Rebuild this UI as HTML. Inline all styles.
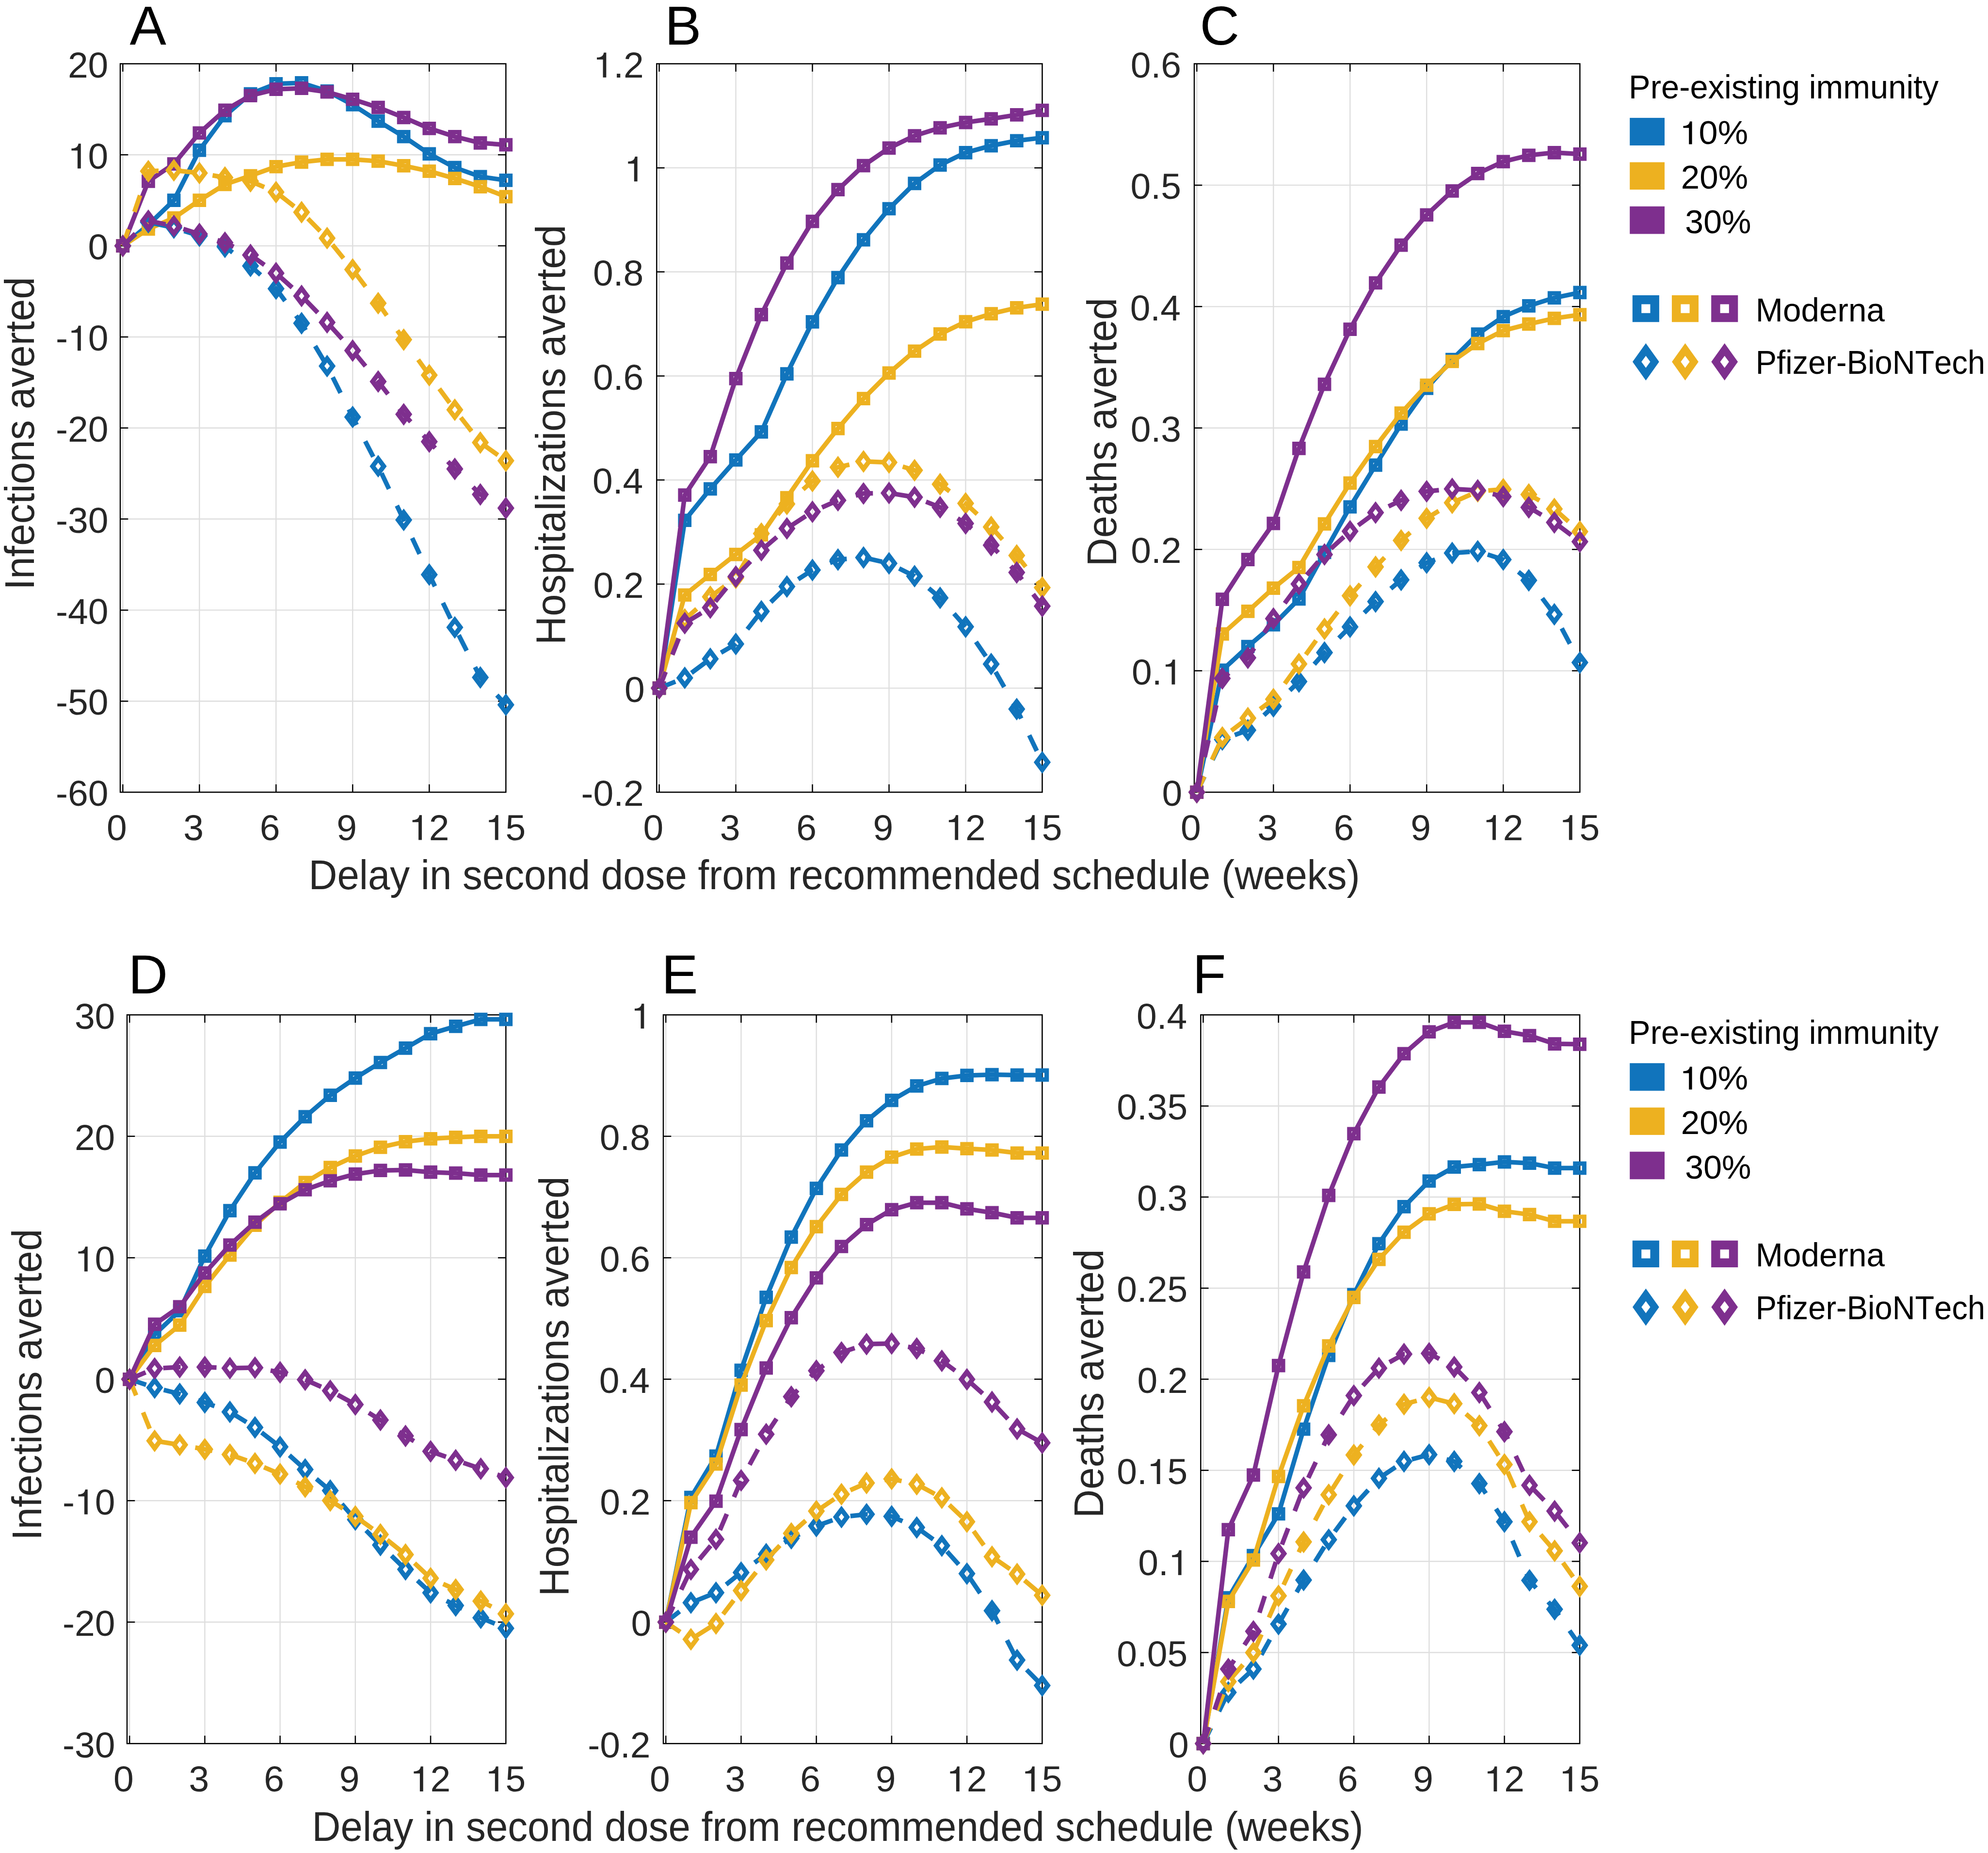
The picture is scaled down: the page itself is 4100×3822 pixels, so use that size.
<!DOCTYPE html>
<html><head><meta charset="utf-8"><title>Figure</title><style>html,body{margin:0;padding:0;background:#fff;}svg{display:block;}text{font-family:"Liberation Sans",sans-serif;font-kerning:none;}</style></head><body>
<svg width="4100" height="3822" viewBox="0 0 4100 3822" font-family="Liberation Sans, sans-serif" style="font-kerning:none">
<rect width="4100" height="3822" fill="#fff"/>
<path d="M253.27 131.5V1634M411.27 131.5V1634M569.28 131.5V1634M727.29 131.5V1634M885.29 131.5V1634M1043.3 131.5V1634M248 131.5H1043.3M248 319.31H1043.3M248 507.12H1043.3M248 694.94H1043.3M248 882.75H1043.3M248 1070.56H1043.3M248 1258.38H1043.3M248 1446.19H1043.3M248 1634H1043.3" stroke="#DEDEDE" stroke-width="2.4" fill="none"/>
<path d="M248 131.5H1043.3V1634H248ZM253.27 1634V1619M253.27 131.5V146.5M411.27 1634V1619M411.27 131.5V146.5M569.28 1634V1619M569.28 131.5V146.5M727.29 1634V1619M727.29 131.5V146.5M885.29 1634V1619M885.29 131.5V146.5M1043.3 1634V1619M1043.3 131.5V146.5M248 131.5H263M1043.3 131.5H1028.3M248 319.31H263M1043.3 319.31H1028.3M248 507.12H263M1043.3 507.12H1028.3M248 694.94H263M1043.3 694.94H1028.3M248 882.75H263M1043.3 882.75H1028.3M248 1070.56H263M1043.3 1070.56H1028.3M248 1258.38H263M1043.3 1258.38H1028.3M248 1446.19H263M1043.3 1446.19H1028.3M248 1634H263M1043.3 1634H1028.3" stroke="#000" stroke-width="2.5" fill="none" stroke-linecap="square"/>
<path d="M253.27 507.12L305.94 463.93L358.6 413.22L411.27 309.92L463.94 238.55L516.61 193.48L569.28 172.82L621.95 170.94L674.62 187.84L727.29 216.02L779.96 249.82L832.62 281.75L885.29 317.43L937.96 345.61L990.63 364.39L1043.3 371.9" stroke="#1174BC" stroke-width="9.5" fill="none" stroke-linejoin="round"/>
<path d="M239.42 493.27H267.12V520.98H239.42ZM248.57 502.43H257.97V511.82H248.57ZM292.09 450.08H319.79V477.78H292.09ZM301.24 459.23H310.64V468.63H301.24ZM344.75 399.37H372.45V427.07H344.75ZM353.9 408.52H363.3V417.92H353.9ZM397.42 296.07H425.12V323.77H397.42ZM406.57 305.22H415.97V314.62H406.57ZM450.09 224.7H477.79V252.4H450.09ZM459.24 233.85H468.64V243.25H459.24ZM502.76 179.63H530.46V207.33H502.76ZM511.91 188.78H521.31V198.18H511.91ZM555.43 158.97H583.13V186.67H555.43ZM564.58 168.12H573.98V177.52H564.58ZM608.1 157.09H635.8V184.79H608.1ZM617.25 166.24H626.65V175.64H617.25ZM660.77 173.99H688.47V201.69H660.77ZM669.92 183.14H679.32V192.54H669.92ZM713.44 202.17H741.14V229.87H713.44ZM722.59 211.32H731.99V220.72H722.59ZM766.11 235.97H793.81V263.67H766.11ZM775.26 245.12H784.66V254.52H775.26ZM818.77 267.9H846.47V295.6H818.77ZM827.92 277.05H837.32V286.45H827.92ZM871.44 303.58H899.14V331.28H871.44ZM880.59 312.73H889.99V322.13H880.59ZM924.11 331.76H951.81V359.46H924.11ZM933.26 340.91H942.66V350.31H933.26ZM976.78 350.54H1004.48V378.24H976.78ZM985.93 359.69H995.33V369.09H985.93ZM1029.45 358.05H1057.15V385.75H1029.45ZM1038.6 367.2H1048V376.6H1038.6Z" fill="#1174BC" fill-rule="evenodd"/>
<path d="M253.27 507.12L305.94 472.38L358.6 449.65L411.27 413.22L463.94 380.35L516.61 362.51L569.28 343.73L621.95 334.34L674.62 328.7L727.29 328.7L779.96 332.46L832.62 341.85L885.29 353.12L937.96 368.14L990.63 385.05L1043.3 405.71" stroke="#EDB120" stroke-width="9.5" fill="none" stroke-linejoin="round"/>
<path d="M239.42 493.27H267.12V520.98H239.42ZM248.57 502.43H257.97V511.82H248.57ZM292.09 458.53H319.79V486.23H292.09ZM301.24 467.68H310.64V477.08H301.24ZM344.75 435.8H372.45V463.5H344.75ZM353.9 444.95H363.3V454.35H353.9ZM397.42 399.37H425.12V427.07H397.42ZM406.57 408.52H415.97V417.92H406.57ZM450.09 366.5H477.79V394.2H450.09ZM459.24 375.65H468.64V385.05H459.24ZM502.76 348.66H530.46V376.36H502.76ZM511.91 357.81H521.31V367.21H511.91ZM555.43 329.88H583.13V357.58H555.43ZM564.58 339.03H573.98V348.43H564.58ZM608.1 320.49H635.8V348.19H608.1ZM617.25 329.64H626.65V339.04H617.25ZM660.77 314.85H688.47V342.55H660.77ZM669.92 324H679.32V333.4H669.92ZM713.44 314.85H741.14V342.55H713.44ZM722.59 324H731.99V333.4H722.59ZM766.11 318.61H793.81V346.31H766.11ZM775.26 327.76H784.66V337.16H775.26ZM818.77 328H846.47V355.7H818.77ZM827.92 337.15H837.32V346.55H827.92ZM871.44 339.27H899.14V366.97H871.44ZM880.59 348.42H889.99V357.82H880.59ZM924.11 354.29H951.81V381.99H924.11ZM933.26 363.44H942.66V372.84H933.26ZM976.78 371.2H1004.48V398.9H976.78ZM985.93 380.35H995.33V389.75H985.93ZM1029.45 391.86H1057.15V419.56H1029.45ZM1038.6 401.01H1048V410.41H1038.6Z" fill="#EDB120" fill-rule="evenodd"/>
<path d="M253.27 507.12L305.94 373.78L358.6 338.09L411.27 274.24L463.94 227.28L516.61 197.23L569.28 184.09L621.95 182.21L674.62 189.72L727.29 204.75L779.96 221.65L832.62 242.31L885.29 264.85L937.96 281.75L990.63 294.9L1043.3 298.65" stroke="#7E2F8E" stroke-width="9.5" fill="none" stroke-linejoin="round"/>
<path d="M239.42 493.27H267.12V520.98H239.42ZM248.57 502.43H257.97V511.82H248.57ZM292.09 359.93H319.79V387.63H292.09ZM301.24 369.08H310.64V378.48H301.24ZM344.75 324.24H372.45V351.94H344.75ZM353.9 333.39H363.3V342.79H353.9ZM397.42 260.39H425.12V288.09H397.42ZM406.57 269.54H415.97V278.94H406.57ZM450.09 213.43H477.79V241.13H450.09ZM459.24 222.58H468.64V231.98H459.24ZM502.76 183.38H530.46V211.08H502.76ZM511.91 192.53H521.31V201.93H511.91ZM555.43 170.24H583.13V197.94H555.43ZM564.58 179.39H573.98V188.79H564.58ZM608.1 168.36H635.8V196.06H608.1ZM617.25 177.51H626.65V186.91H617.25ZM660.77 175.87H688.47V203.57H660.77ZM669.92 185.02H679.32V194.42H669.92ZM713.44 190.9H741.14V218.6H713.44ZM722.59 200.05H731.99V209.45H722.59ZM766.11 207.8H793.81V235.5H766.11ZM775.26 216.95H784.66V226.35H775.26ZM818.77 228.46H846.47V256.16H818.77ZM827.92 237.61H837.32V247.01H827.92ZM871.44 251H899.14V278.7H871.44ZM880.59 260.15H889.99V269.55H880.59ZM924.11 267.9H951.81V295.6H924.11ZM933.26 277.05H942.66V286.45H933.26ZM976.78 281.05H1004.48V308.75H976.78ZM985.93 290.2H995.33V299.6H985.93ZM1029.45 284.8H1057.15V312.5H1029.45ZM1038.6 293.95H1048V303.35H1038.6Z" fill="#7E2F8E" fill-rule="evenodd"/>
<path d="M253.27 507.12L305.94 458.29L358.6 469.56L411.27 486.47L463.94 509L516.61 548.44L569.28 595.4L621.95 666.77L674.62 755.04L727.29 860.21L779.96 961.63L832.62 1072.44L885.29 1185.13L937.96 1294.06L990.63 1397.36L1043.3 1453.7" stroke="#1174BC" stroke-width="9.5" fill="none" stroke-linejoin="round" stroke-dasharray="36 38"/>
<path d="M253.27 483.73L270.87 507.12L253.27 530.52L235.67 507.12ZM253.27 499.82L258.87 507.12L253.27 514.42L247.67 507.12ZM305.94 434.89L323.54 458.29L305.94 481.69L288.34 458.29ZM305.94 450.99L311.54 458.29L305.94 465.59L300.34 458.29ZM358.6 446.16L376.2 469.56L358.6 492.96L341 469.56ZM358.6 462.26L364.2 469.56L358.6 476.86L353 469.56ZM411.27 463.07L428.87 486.47L411.27 509.87L393.67 486.47ZM411.27 479.17L416.87 486.47L411.27 493.77L405.67 486.47ZM463.94 485.6L481.54 509L463.94 532.4L446.34 509ZM463.94 501.7L469.54 509L463.94 516.3L458.34 509ZM516.61 525.04L534.21 548.44L516.61 571.84L499.01 548.44ZM516.61 541.14L522.21 548.44L516.61 555.74L511.01 548.44ZM569.28 572L586.88 595.4L569.28 618.8L551.68 595.4ZM569.28 588.1L574.88 595.4L569.28 602.7L563.68 595.4ZM621.95 643.37L639.55 666.77L621.95 690.17L604.35 666.77ZM621.95 659.47L627.55 666.77L621.95 674.07L616.35 666.77ZM674.62 731.64L692.22 755.04L674.62 778.44L657.02 755.04ZM674.62 747.74L680.22 755.04L674.62 762.34L669.02 755.04ZM727.29 836.81L744.89 860.21L727.29 883.61L709.69 860.21ZM727.29 852.91L732.89 860.21L727.29 867.51L721.69 860.21ZM779.96 938.23L797.56 961.63L779.96 985.03L762.36 961.63ZM779.96 954.33L785.56 961.63L779.96 968.93L774.36 961.63ZM832.62 1049.04L850.22 1072.44L832.62 1095.84L815.02 1072.44ZM832.62 1065.14L838.22 1072.44L832.62 1079.74L827.02 1072.44ZM885.29 1161.73L902.89 1185.13L885.29 1208.53L867.69 1185.13ZM885.29 1177.83L890.89 1185.13L885.29 1192.43L879.69 1185.13ZM937.96 1270.66L955.56 1294.06L937.96 1317.46L920.36 1294.06ZM937.96 1286.76L943.56 1294.06L937.96 1301.36L932.36 1294.06ZM990.63 1373.96L1008.23 1397.36L990.63 1420.76L973.03 1397.36ZM990.63 1390.06L996.23 1397.36L990.63 1404.66L985.03 1397.36ZM1043.3 1430.3L1060.9 1453.7L1043.3 1477.1L1025.7 1453.7ZM1043.3 1446.4L1048.9 1453.7L1043.3 1461L1037.7 1453.7Z" fill="#1174BC" fill-rule="evenodd"/>
<path d="M253.27 507.12L305.94 353.12L358.6 351.24L411.27 356.88L463.94 366.27L516.61 373.78L569.28 396.32L621.95 437.63L674.62 491.16L727.29 555.96L779.96 625.45L832.62 700.57L885.29 773.82L937.96 845.19L990.63 912.8L1043.3 950.36" stroke="#EDB120" stroke-width="9.5" fill="none" stroke-linejoin="round" stroke-dasharray="36 38"/>
<path d="M253.27 483.73L270.87 507.12L253.27 530.52L235.67 507.12ZM253.27 499.82L258.87 507.12L253.27 514.42L247.67 507.12ZM305.94 329.72L323.54 353.12L305.94 376.52L288.34 353.12ZM305.94 345.82L311.54 353.12L305.94 360.42L300.34 353.12ZM358.6 327.84L376.2 351.24L358.6 374.64L341 351.24ZM358.6 343.94L364.2 351.24L358.6 358.54L353 351.24ZM411.27 333.48L428.87 356.88L411.27 380.27L393.67 356.88ZM411.27 349.57L416.87 356.88L411.27 364.18L405.67 356.88ZM463.94 342.87L481.54 366.27L463.94 389.67L446.34 366.27ZM463.94 358.97L469.54 366.27L463.94 373.57L458.34 366.27ZM516.61 350.38L534.21 373.78L516.61 397.18L499.01 373.78ZM516.61 366.48L522.21 373.78L516.61 381.08L511.01 373.78ZM569.28 372.92L586.88 396.32L569.28 419.72L551.68 396.32ZM569.28 389.02L574.88 396.32L569.28 403.62L563.68 396.32ZM621.95 414.23L639.55 437.63L621.95 461.03L604.35 437.63ZM621.95 430.33L627.55 437.63L621.95 444.93L616.35 437.63ZM674.62 467.76L692.22 491.16L674.62 514.56L657.02 491.16ZM674.62 483.86L680.22 491.16L674.62 498.46L669.02 491.16ZM727.29 532.56L744.89 555.96L727.29 579.36L709.69 555.96ZM727.29 548.66L732.89 555.96L727.29 563.26L721.69 555.96ZM779.96 602.05L797.56 625.45L779.96 648.85L762.36 625.45ZM779.96 618.15L785.56 625.45L779.96 632.75L774.36 625.45ZM832.62 677.17L850.22 700.57L832.62 723.97L815.02 700.57ZM832.62 693.27L838.22 700.57L832.62 707.87L827.02 700.57ZM885.29 750.42L902.89 773.82L885.29 797.22L867.69 773.82ZM885.29 766.52L890.89 773.82L885.29 781.12L879.69 773.82ZM937.96 821.79L955.56 845.19L937.96 868.59L920.36 845.19ZM937.96 837.89L943.56 845.19L937.96 852.49L932.36 845.19ZM990.63 889.4L1008.23 912.8L990.63 936.2L973.03 912.8ZM990.63 905.5L996.23 912.8L990.63 920.1L985.03 912.8ZM1043.3 926.96L1060.9 950.36L1043.3 973.76L1025.7 950.36ZM1043.3 943.06L1048.9 950.36L1043.3 957.66L1037.7 950.36Z" fill="#EDB120" fill-rule="evenodd"/>
<path d="M253.27 507.12L305.94 455.48L358.6 466.18L411.27 482.71L463.94 500.55L516.61 525.91L569.28 563.47L621.95 610.42L674.62 664.89L727.29 723.11L779.96 786.97L832.62 854.58L885.29 910.92L937.96 967.27L990.63 1019.85L1043.3 1048.03" stroke="#7E2F8E" stroke-width="9.5" fill="none" stroke-linejoin="round" stroke-dasharray="36 38"/>
<path d="M253.27 483.73L270.87 507.12L253.27 530.52L235.67 507.12ZM253.27 499.82L258.87 507.12L253.27 514.42L247.67 507.12ZM305.94 432.08L323.54 455.48L305.94 478.88L288.34 455.48ZM305.94 448.18L311.54 455.48L305.94 462.78L300.34 455.48ZM358.6 442.78L376.2 466.18L358.6 489.58L341 466.18ZM358.6 458.88L364.2 466.18L358.6 473.48L353 466.18ZM411.27 459.31L428.87 482.71L411.27 506.11L393.67 482.71ZM411.27 475.41L416.87 482.71L411.27 490.01L405.67 482.71ZM463.94 477.15L481.54 500.55L463.94 523.95L446.34 500.55ZM463.94 493.25L469.54 500.55L463.94 507.85L458.34 500.55ZM516.61 502.51L534.21 525.91L516.61 549.31L499.01 525.91ZM516.61 518.61L522.21 525.91L516.61 533.21L511.01 525.91ZM569.28 540.07L586.88 563.47L569.28 586.87L551.68 563.47ZM569.28 556.17L574.88 563.47L569.28 570.77L563.68 563.47ZM621.95 587.02L639.55 610.42L621.95 633.82L604.35 610.42ZM621.95 603.12L627.55 610.42L621.95 617.72L616.35 610.42ZM674.62 641.49L692.22 664.89L674.62 688.29L657.02 664.89ZM674.62 657.59L680.22 664.89L674.62 672.19L669.02 664.89ZM727.29 699.71L744.89 723.11L727.29 746.51L709.69 723.11ZM727.29 715.81L732.89 723.11L727.29 730.41L721.69 723.11ZM779.96 763.57L797.56 786.97L779.96 810.37L762.36 786.97ZM779.96 779.67L785.56 786.97L779.96 794.27L774.36 786.97ZM832.62 831.18L850.22 854.58L832.62 877.98L815.02 854.58ZM832.62 847.28L838.22 854.58L832.62 861.88L827.02 854.58ZM885.29 887.52L902.89 910.92L885.29 934.32L867.69 910.92ZM885.29 903.62L890.89 910.92L885.29 918.22L879.69 910.92ZM937.96 943.87L955.56 967.27L937.96 990.67L920.36 967.27ZM937.96 959.97L943.56 967.27L937.96 974.57L932.36 967.27ZM990.63 996.45L1008.23 1019.85L990.63 1043.25L973.03 1019.85ZM990.63 1012.55L996.23 1019.85L990.63 1027.15L985.03 1019.85ZM1043.3 1024.62L1060.9 1048.03L1043.3 1071.43L1025.7 1048.03ZM1043.3 1040.73L1048.9 1048.03L1043.3 1055.33L1037.7 1048.03Z" fill="#7E2F8E" fill-rule="evenodd"/>
<g transform="translate(139.91,159.7)" fill="#262626"><text x="0" y="0" font-size="75">20</text></g>
<g transform="translate(139.91,347.51)" fill="#262626"><text x="0" y="0" font-size="75"> 0</text><path d="M0.3578 0L0.2668 0L0.2668 -0.492L0.1001 -0.492L0.1001 -0.549C0.19 -0.552 0.27 -0.57 0.2917 -0.684L0.3578 -0.684Z" transform="translate(0,0) scale(75)"/></g>
<g transform="translate(181.62,535.33)" fill="#262626"><text x="0" y="0" font-size="75">0</text></g>
<g transform="translate(114.94,723.14)" fill="#262626"><text x="0" y="0" font-size="75">- 0</text><path d="M0.3578 0L0.2668 0L0.2668 -0.492L0.1001 -0.492L0.1001 -0.549C0.19 -0.552 0.27 -0.57 0.2917 -0.684L0.3578 -0.684Z" transform="translate(24.98,0) scale(75)"/></g>
<g transform="translate(114.94,910.95)" fill="#262626"><text x="0" y="0" font-size="75">-20</text></g>
<g transform="translate(114.94,1098.76)" fill="#262626"><text x="0" y="0" font-size="75">-30</text></g>
<g transform="translate(114.94,1286.58)" fill="#262626"><text x="0" y="0" font-size="75">-40</text></g>
<g transform="translate(114.94,1474.39)" fill="#262626"><text x="0" y="0" font-size="75">-50</text></g>
<g transform="translate(114.94,1662.2)" fill="#262626"><text x="0" y="0" font-size="75">-60</text></g>
<g transform="translate(220.12,1732.6)" fill="#262626"><text x="0" y="0" font-size="75">0</text></g>
<g transform="translate(378.35,1732.6)" fill="#262626"><text x="0" y="0" font-size="75">3</text></g>
<g transform="translate(535.87,1732.6)" fill="#262626"><text x="0" y="0" font-size="75">6</text></g>
<g transform="translate(694.14,1732.6)" fill="#262626"><text x="0" y="0" font-size="75">9</text></g>
<g transform="translate(843.11,1732.6)" fill="#262626"><text x="0" y="0" font-size="75"> 2</text><path d="M0.3578 0L0.2668 0L0.2668 -0.492L0.1001 -0.492L0.1001 -0.549C0.19 -0.552 0.27 -0.57 0.2917 -0.684L0.3578 -0.684Z" transform="translate(0,0) scale(75)"/></g>
<g transform="translate(1000.82,1732.6)" fill="#262626"><text x="0" y="0" font-size="75"> 5</text><path d="M0.3578 0L0.2668 0L0.2668 -0.492L0.1001 -0.492L0.1001 -0.549C0.19 -0.552 0.27 -0.57 0.2917 -0.684L0.3578 -0.684Z" transform="translate(0,0) scale(75)"/></g>
<path d="M1359.57 131.5V1634M1517.55 131.5V1634M1675.54 131.5V1634M1833.53 131.5V1634M1991.51 131.5V1634M2149.5 131.5V1634M1354.3 131.5H2149.5M1354.3 346.14H2149.5M1354.3 560.79H2149.5M1354.3 775.43H2149.5M1354.3 990.07H2149.5M1354.3 1204.71H2149.5M1354.3 1419.36H2149.5M1354.3 1634H2149.5" stroke="#DEDEDE" stroke-width="2.4" fill="none"/>
<path d="M1354.3 131.5H2149.5V1634H1354.3ZM1359.57 1634V1619M1359.57 131.5V146.5M1517.55 1634V1619M1517.55 131.5V146.5M1675.54 1634V1619M1675.54 131.5V146.5M1833.53 1634V1619M1833.53 131.5V146.5M1991.51 1634V1619M1991.51 131.5V146.5M2149.5 1634V1619M2149.5 131.5V146.5M1354.3 131.5H1369.3M2149.5 131.5H2134.5M1354.3 346.14H1369.3M2149.5 346.14H2134.5M1354.3 560.79H1369.3M2149.5 560.79H2134.5M1354.3 775.43H1369.3M2149.5 775.43H2134.5M1354.3 990.07H1369.3M2149.5 990.07H2134.5M1354.3 1204.71H1369.3M2149.5 1204.71H2134.5M1354.3 1419.36H1369.3M2149.5 1419.36H2134.5M1354.3 1634H1369.3M2149.5 1634H2134.5" stroke="#000" stroke-width="2.5" fill="none" stroke-linecap="square"/>
<path d="M1359.57 1419.36L1412.23 1073.25L1464.89 1008.32L1517.55 948.75L1570.22 890.8L1622.88 771.14L1675.54 663.81L1728.2 572.59L1780.86 494.57L1833.53 430.5L1886.19 378.45L1938.85 340.35L1991.51 314.81L2044.18 300.53L2096.84 290.23L2149.5 284.11" stroke="#1174BC" stroke-width="9.5" fill="none" stroke-linejoin="round"/>
<path d="M1345.72 1405.51H1373.42V1433.21H1345.72ZM1354.87 1414.66H1364.27V1424.06H1354.87ZM1398.38 1059.4H1426.08V1087.1H1398.38ZM1407.53 1068.55H1416.93V1077.95H1407.53ZM1451.04 994.47H1478.74V1022.17H1451.04ZM1460.19 1003.62H1469.59V1013.02H1460.19ZM1503.7 934.9H1531.4V962.6H1503.7ZM1512.85 944.05H1522.25V953.45H1512.85ZM1556.37 876.95H1584.07V904.65H1556.37ZM1565.52 886.1H1574.92V895.5H1565.52ZM1609.03 757.29H1636.73V784.99H1609.03ZM1618.18 766.44H1627.58V775.84H1618.18ZM1661.69 649.96H1689.39V677.66H1661.69ZM1670.84 659.11H1680.24V668.51H1670.84ZM1714.35 558.74H1742.05V586.44H1714.35ZM1723.5 567.89H1732.9V577.29H1723.5ZM1767.01 480.72H1794.71V508.42H1767.01ZM1776.16 489.87H1785.56V499.27H1776.16ZM1819.68 416.65H1847.38V444.35H1819.68ZM1828.83 425.8H1838.23V435.2H1828.83ZM1872.34 364.6H1900.04V392.3H1872.34ZM1881.49 373.75H1890.89V383.15H1881.49ZM1925 326.5H1952.7V354.2H1925ZM1934.15 335.65H1943.55V345.05H1934.15ZM1977.66 300.96H2005.36V328.66H1977.66ZM1986.81 310.11H1996.21V319.51H1986.81ZM2030.33 286.68H2058.03V314.38H2030.33ZM2039.48 295.83H2048.88V305.23H2039.48ZM2082.99 276.38H2110.69V304.08H2082.99ZM2092.14 285.53H2101.54V294.93H2092.14ZM2135.65 270.26H2163.35V297.96H2135.65ZM2144.8 279.41H2154.2V288.81H2144.8Z" fill="#1174BC" fill-rule="evenodd"/>
<path d="M1359.57 1419.36L1412.23 1227.25L1464.89 1184.86L1517.55 1143.54L1570.22 1103.19L1622.88 1026.56L1675.54 950.36L1728.2 883.82L1780.86 822.22L1833.53 769.31L1886.19 724.24L1938.85 688.93L1991.51 663.6L2044.18 647.18L2096.84 634.84L2149.5 627.43" stroke="#EDB120" stroke-width="9.5" fill="none" stroke-linejoin="round"/>
<path d="M1345.72 1405.51H1373.42V1433.21H1345.72ZM1354.87 1414.66H1364.27V1424.06H1354.87ZM1398.38 1213.4H1426.08V1241.1H1398.38ZM1407.53 1222.55H1416.93V1231.95H1407.53ZM1451.04 1171.01H1478.74V1198.71H1451.04ZM1460.19 1180.16H1469.59V1189.56H1460.19ZM1503.7 1129.69H1531.4V1157.39H1503.7ZM1512.85 1138.84H1522.25V1148.24H1512.85ZM1556.37 1089.34H1584.07V1117.04H1556.37ZM1565.52 1098.49H1574.92V1107.89H1565.52ZM1609.03 1012.71H1636.73V1040.41H1609.03ZM1618.18 1021.86H1627.58V1031.26H1618.18ZM1661.69 936.51H1689.39V964.21H1661.69ZM1670.84 945.66H1680.24V955.06H1670.84ZM1714.35 869.97H1742.05V897.67H1714.35ZM1723.5 879.12H1732.9V888.52H1723.5ZM1767.01 808.37H1794.71V836.07H1767.01ZM1776.16 817.52H1785.56V826.92H1776.16ZM1819.68 755.46H1847.38V783.16H1819.68ZM1828.83 764.61H1838.23V774.01H1828.83ZM1872.34 710.39H1900.04V738.09H1872.34ZM1881.49 719.54H1890.89V728.94H1881.49ZM1925 675.08H1952.7V702.78H1925ZM1934.15 684.23H1943.55V693.63H1934.15ZM1977.66 649.75H2005.36V677.45H1977.66ZM1986.81 658.9H1996.21V668.3H1986.81ZM2030.33 633.33H2058.03V661.03H2030.33ZM2039.48 642.48H2048.88V651.88H2039.48ZM2082.99 620.99H2110.69V648.69H2082.99ZM2092.14 630.14H2101.54V639.54H2092.14ZM2135.65 613.58H2163.35V641.28H2135.65ZM2144.8 622.73H2154.2V632.13H2144.8Z" fill="#EDB120" fill-rule="evenodd"/>
<path d="M1359.57 1419.36L1412.23 1021.19L1464.89 941.78L1517.55 780.79L1570.22 648.79L1622.88 542.54L1675.54 456.68L1728.2 391.22L1780.86 341.53L1833.53 305.36L1886.19 280.03L1938.85 263.61L1991.51 252.56L2044.18 245.15L2096.84 236.89L2149.5 227.55" stroke="#7E2F8E" stroke-width="9.5" fill="none" stroke-linejoin="round"/>
<path d="M1345.72 1405.51H1373.42V1433.21H1345.72ZM1354.87 1414.66H1364.27V1424.06H1354.87ZM1398.38 1007.34H1426.08V1035.04H1398.38ZM1407.53 1016.49H1416.93V1025.89H1407.53ZM1451.04 927.93H1478.74V955.63H1451.04ZM1460.19 937.08H1469.59V946.48H1460.19ZM1503.7 766.94H1531.4V794.64H1503.7ZM1512.85 776.09H1522.25V785.49H1512.85ZM1556.37 634.94H1584.07V662.64H1556.37ZM1565.52 644.09H1574.92V653.49H1565.52ZM1609.03 528.69H1636.73V556.39H1609.03ZM1618.18 537.84H1627.58V547.24H1618.18ZM1661.69 442.83H1689.39V470.53H1661.69ZM1670.84 451.98H1680.24V461.38H1670.84ZM1714.35 377.37H1742.05V405.07H1714.35ZM1723.5 386.52H1732.9V395.92H1723.5ZM1767.01 327.68H1794.71V355.38H1767.01ZM1776.16 336.83H1785.56V346.23H1776.16ZM1819.68 291.51H1847.38V319.21H1819.68ZM1828.83 300.66H1838.23V310.06H1828.83ZM1872.34 266.18H1900.04V293.88H1872.34ZM1881.49 275.33H1890.89V284.73H1881.49ZM1925 249.76H1952.7V277.46H1925ZM1934.15 258.91H1943.55V268.31H1934.15ZM1977.66 238.71H2005.36V266.41H1977.66ZM1986.81 247.86H1996.21V257.26H1986.81ZM2030.33 231.3H2058.03V259H2030.33ZM2039.48 240.45H2048.88V249.85H2039.48ZM2082.99 223.04H2110.69V250.74H2082.99ZM2092.14 232.19H2101.54V241.59H2092.14ZM2135.65 213.7H2163.35V241.4H2135.65ZM2144.8 222.85H2154.2V232.25H2144.8Z" fill="#7E2F8E" fill-rule="evenodd"/>
<path d="M1359.57 1419.36L1412.23 1398.21L1464.89 1358.94L1517.55 1328.24L1570.22 1260.95L1622.88 1209.76L1675.54 1175.74L1728.2 1154.27L1780.86 1149.98L1833.53 1162L1886.19 1188.4L1938.85 1233.15L1991.51 1292.83L2044.18 1369.67L2096.84 1462.61L2149.5 1572.29" stroke="#1174BC" stroke-width="9.5" fill="none" stroke-linejoin="round" stroke-dasharray="36 38"/>
<path d="M1359.57 1395.96L1377.17 1419.36L1359.57 1442.76L1341.97 1419.36ZM1359.57 1412.06L1365.17 1419.36L1359.57 1426.66L1353.97 1419.36ZM1412.23 1374.81L1429.83 1398.21L1412.23 1421.61L1394.63 1398.21ZM1412.23 1390.91L1417.83 1398.21L1412.23 1405.51L1406.63 1398.21ZM1464.89 1335.54L1482.49 1358.94L1464.89 1382.34L1447.29 1358.94ZM1464.89 1351.64L1470.49 1358.94L1464.89 1366.24L1459.29 1358.94ZM1517.55 1304.84L1535.15 1328.24L1517.55 1351.64L1499.95 1328.24ZM1517.55 1320.94L1523.15 1328.24L1517.55 1335.54L1511.95 1328.24ZM1570.22 1237.55L1587.82 1260.95L1570.22 1284.35L1552.62 1260.95ZM1570.22 1253.65L1575.82 1260.95L1570.22 1268.25L1564.62 1260.95ZM1622.88 1186.36L1640.48 1209.76L1622.88 1233.16L1605.28 1209.76ZM1622.88 1202.46L1628.48 1209.76L1622.88 1217.06L1617.28 1209.76ZM1675.54 1152.34L1693.14 1175.74L1675.54 1199.14L1657.94 1175.74ZM1675.54 1168.44L1681.14 1175.74L1675.54 1183.04L1669.94 1175.74ZM1728.2 1130.87L1745.8 1154.27L1728.2 1177.67L1710.6 1154.27ZM1728.2 1146.97L1733.8 1154.27L1728.2 1161.57L1722.6 1154.27ZM1780.86 1126.58L1798.46 1149.98L1780.86 1173.38L1763.26 1149.98ZM1780.86 1142.68L1786.46 1149.98L1780.86 1157.28L1775.26 1149.98ZM1833.53 1138.6L1851.13 1162L1833.53 1185.4L1815.93 1162ZM1833.53 1154.7L1839.13 1162L1833.53 1169.3L1827.93 1162ZM1886.19 1165L1903.79 1188.4L1886.19 1211.8L1868.59 1188.4ZM1886.19 1181.1L1891.79 1188.4L1886.19 1195.7L1880.59 1188.4ZM1938.85 1209.75L1956.45 1233.15L1938.85 1256.55L1921.25 1233.15ZM1938.85 1225.85L1944.45 1233.15L1938.85 1240.45L1933.25 1233.15ZM1991.51 1269.43L2009.11 1292.83L1991.51 1316.23L1973.91 1292.83ZM1991.51 1285.53L1997.11 1292.83L1991.51 1300.13L1985.91 1292.83ZM2044.18 1346.27L2061.78 1369.67L2044.18 1393.07L2026.58 1369.67ZM2044.18 1362.37L2049.78 1369.67L2044.18 1376.97L2038.58 1369.67ZM2096.84 1439.21L2114.44 1462.61L2096.84 1486.01L2079.24 1462.61ZM2096.84 1455.31L2102.44 1462.61L2096.84 1469.91L2091.24 1462.61ZM2149.5 1548.89L2167.1 1572.29L2149.5 1595.69L2131.9 1572.29ZM2149.5 1564.99L2155.1 1572.29L2149.5 1579.59L2143.9 1572.29Z" fill="#1174BC" fill-rule="evenodd"/>
<path d="M1359.57 1419.36L1412.23 1277.69L1464.89 1231.01L1517.55 1191.84L1570.22 1100.61L1622.88 1039.44L1675.54 992.22L1728.2 963.67L1780.86 951.76L1833.53 953.8L1886.19 970L1938.85 998.66L1991.51 1038.37L2044.18 1086.98L2096.84 1145.69L2149.5 1211.9" stroke="#EDB120" stroke-width="9.5" fill="none" stroke-linejoin="round" stroke-dasharray="36 38"/>
<path d="M1359.57 1395.96L1377.17 1419.36L1359.57 1442.76L1341.97 1419.36ZM1359.57 1412.06L1365.17 1419.36L1359.57 1426.66L1353.97 1419.36ZM1412.23 1254.29L1429.83 1277.69L1412.23 1301.09L1394.63 1277.69ZM1412.23 1270.39L1417.83 1277.69L1412.23 1284.99L1406.63 1277.69ZM1464.89 1207.61L1482.49 1231.01L1464.89 1254.41L1447.29 1231.01ZM1464.89 1223.71L1470.49 1231.01L1464.89 1238.31L1459.29 1231.01ZM1517.55 1168.44L1535.15 1191.84L1517.55 1215.24L1499.95 1191.84ZM1517.55 1184.54L1523.15 1191.84L1517.55 1199.14L1511.95 1191.84ZM1570.22 1077.21L1587.82 1100.61L1570.22 1124.01L1552.62 1100.61ZM1570.22 1093.31L1575.82 1100.61L1570.22 1107.91L1564.62 1100.61ZM1622.88 1016.04L1640.48 1039.44L1622.88 1062.84L1605.28 1039.44ZM1622.88 1032.14L1628.48 1039.44L1622.88 1046.74L1617.28 1039.44ZM1675.54 968.82L1693.14 992.22L1675.54 1015.62L1657.94 992.22ZM1675.54 984.92L1681.14 992.22L1675.54 999.52L1669.94 992.22ZM1728.2 940.27L1745.8 963.67L1728.2 987.07L1710.6 963.67ZM1728.2 956.37L1733.8 963.67L1728.2 970.97L1722.6 963.67ZM1780.86 928.36L1798.46 951.76L1780.86 975.16L1763.26 951.76ZM1780.86 944.46L1786.46 951.76L1780.86 959.06L1775.26 951.76ZM1833.53 930.4L1851.13 953.8L1833.53 977.2L1815.93 953.8ZM1833.53 946.5L1839.13 953.8L1833.53 961.1L1827.93 953.8ZM1886.19 946.6L1903.79 970L1886.19 993.4L1868.59 970ZM1886.19 962.7L1891.79 970L1886.19 977.3L1880.59 970ZM1938.85 975.26L1956.45 998.66L1938.85 1022.06L1921.25 998.66ZM1938.85 991.36L1944.45 998.66L1938.85 1005.96L1933.25 998.66ZM1991.51 1014.97L2009.11 1038.37L1991.51 1061.77L1973.91 1038.37ZM1991.51 1031.07L1997.11 1038.37L1991.51 1045.67L1985.91 1038.37ZM2044.18 1063.58L2061.78 1086.98L2044.18 1110.38L2026.58 1086.98ZM2044.18 1079.68L2049.78 1086.98L2044.18 1094.28L2038.58 1086.98ZM2096.84 1122.29L2114.44 1145.69L2096.84 1169.09L2079.24 1145.69ZM2096.84 1138.39L2102.44 1145.69L2096.84 1152.99L2091.24 1145.69ZM2149.5 1188.5L2167.1 1211.9L2149.5 1235.3L2131.9 1211.9ZM2149.5 1204.6L2155.1 1211.9L2149.5 1219.2L2143.9 1211.9Z" fill="#EDB120" fill-rule="evenodd"/>
<path d="M1359.57 1419.36L1412.23 1285.42L1464.89 1253.33L1517.55 1189.26L1570.22 1134.96L1622.88 1089.88L1675.54 1055.54L1728.2 1031.93L1780.86 1017.87L1833.53 1016.9L1886.19 1025.49L1938.85 1046.42L1991.51 1079.68L2044.18 1124.44L2096.84 1180.78L2149.5 1250.22" stroke="#7E2F8E" stroke-width="9.5" fill="none" stroke-linejoin="round" stroke-dasharray="36 38"/>
<path d="M1359.57 1395.96L1377.17 1419.36L1359.57 1442.76L1341.97 1419.36ZM1359.57 1412.06L1365.17 1419.36L1359.57 1426.66L1353.97 1419.36ZM1412.23 1262.02L1429.83 1285.42L1412.23 1308.82L1394.63 1285.42ZM1412.23 1278.12L1417.83 1285.42L1412.23 1292.72L1406.63 1285.42ZM1464.89 1229.93L1482.49 1253.33L1464.89 1276.73L1447.29 1253.33ZM1464.89 1246.03L1470.49 1253.33L1464.89 1260.63L1459.29 1253.33ZM1517.55 1165.86L1535.15 1189.26L1517.55 1212.66L1499.95 1189.26ZM1517.55 1181.96L1523.15 1189.26L1517.55 1196.56L1511.95 1189.26ZM1570.22 1111.56L1587.82 1134.96L1570.22 1158.36L1552.62 1134.96ZM1570.22 1127.66L1575.82 1134.96L1570.22 1142.26L1564.62 1134.96ZM1622.88 1066.48L1640.48 1089.88L1622.88 1113.28L1605.28 1089.88ZM1622.88 1082.58L1628.48 1089.88L1622.88 1097.18L1617.28 1089.88ZM1675.54 1032.14L1693.14 1055.54L1675.54 1078.94L1657.94 1055.54ZM1675.54 1048.24L1681.14 1055.54L1675.54 1062.84L1669.94 1055.54ZM1728.2 1008.53L1745.8 1031.93L1728.2 1055.33L1710.6 1031.93ZM1728.2 1024.63L1733.8 1031.93L1728.2 1039.23L1722.6 1031.93ZM1780.86 994.47L1798.46 1017.87L1780.86 1041.27L1763.26 1017.87ZM1780.86 1010.57L1786.46 1017.87L1780.86 1025.17L1775.26 1017.87ZM1833.53 993.5L1851.13 1016.9L1833.53 1040.3L1815.93 1016.9ZM1833.53 1009.6L1839.13 1016.9L1833.53 1024.2L1827.93 1016.9ZM1886.19 1002.09L1903.79 1025.49L1886.19 1048.89L1868.59 1025.49ZM1886.19 1018.19L1891.79 1025.49L1886.19 1032.79L1880.59 1025.49ZM1938.85 1023.02L1956.45 1046.42L1938.85 1069.82L1921.25 1046.42ZM1938.85 1039.12L1944.45 1046.42L1938.85 1053.72L1933.25 1046.42ZM1991.51 1056.28L2009.11 1079.68L1991.51 1103.08L1973.91 1079.68ZM1991.51 1072.38L1997.11 1079.68L1991.51 1086.98L1985.91 1079.68ZM2044.18 1101.04L2061.78 1124.44L2044.18 1147.84L2026.58 1124.44ZM2044.18 1117.14L2049.78 1124.44L2044.18 1131.74L2038.58 1124.44ZM2096.84 1157.38L2114.44 1180.78L2096.84 1204.18L2079.24 1180.78ZM2096.84 1173.48L2102.44 1180.78L2096.84 1188.08L2091.24 1180.78ZM2149.5 1226.82L2167.1 1250.22L2149.5 1273.62L2131.9 1250.22ZM2149.5 1242.92L2155.1 1250.22L2149.5 1257.52L2143.9 1250.22Z" fill="#7E2F8E" fill-rule="evenodd"/>
<g transform="translate(1223.5,159.7)" fill="#262626"><text x="0" y="0" font-size="75"> .2</text><path d="M0.3578 0L0.2668 0L0.2668 -0.492L0.1001 -0.492L0.1001 -0.549C0.19 -0.552 0.27 -0.57 0.2917 -0.684L0.3578 -0.684Z" transform="translate(0,0) scale(75)"/></g>
<g transform="translate(1287.76,374.34)" fill="#262626"><path d="M0.3578 0L0.2668 0L0.2668 -0.492L0.1001 -0.492L0.1001 -0.549C0.19 -0.552 0.27 -0.57 0.2917 -0.684L0.3578 -0.684Z" transform="translate(0,0) scale(75)"/></g>
<g transform="translate(1222.98,588.99)" fill="#262626"><text x="0" y="0" font-size="75">0.8</text></g>
<g transform="translate(1223.05,803.63)" fill="#262626"><text x="0" y="0" font-size="75">0.6</text></g>
<g transform="translate(1221.93,1018.27)" fill="#262626"><text x="0" y="0" font-size="75">0.4</text></g>
<g transform="translate(1223.5,1232.91)" fill="#262626"><text x="0" y="0" font-size="75">0.2</text></g>
<g transform="translate(1287.92,1447.56)" fill="#262626"><text x="0" y="0" font-size="75">0</text></g>
<g transform="translate(1198.53,1662.2)" fill="#262626"><text x="0" y="0" font-size="75">-0.2</text></g>
<g transform="translate(1326.42,1732.6)" fill="#262626"><text x="0" y="0" font-size="75">0</text></g>
<g transform="translate(1484.63,1732.6)" fill="#262626"><text x="0" y="0" font-size="75">3</text></g>
<g transform="translate(1642.13,1732.6)" fill="#262626"><text x="0" y="0" font-size="75">6</text></g>
<g transform="translate(1800.38,1732.6)" fill="#262626"><text x="0" y="0" font-size="75">9</text></g>
<g transform="translate(1949.33,1732.6)" fill="#262626"><text x="0" y="0" font-size="75"> 2</text><path d="M0.3578 0L0.2668 0L0.2668 -0.492L0.1001 -0.492L0.1001 -0.549C0.19 -0.552 0.27 -0.57 0.2917 -0.684L0.3578 -0.684Z" transform="translate(0,0) scale(75)"/></g>
<g transform="translate(2107.02,1732.6)" fill="#262626"><text x="0" y="0" font-size="75"> 5</text><path d="M0.3578 0L0.2668 0L0.2668 -0.492L0.1001 -0.492L0.1001 -0.549C0.19 -0.552 0.27 -0.57 0.2917 -0.684L0.3578 -0.684Z" transform="translate(0,0) scale(75)"/></g>
<path d="M2468.27 131.5V1634M2626.27 131.5V1634M2784.28 131.5V1634M2942.29 131.5V1634M3100.29 131.5V1634M3258.3 131.5V1634M2463 131.5H3258.3M2463 381.92H3258.3M2463 632.33H3258.3M2463 882.75H3258.3M2463 1133.17H3258.3M2463 1383.58H3258.3M2463 1634H3258.3" stroke="#DEDEDE" stroke-width="2.4" fill="none"/>
<path d="M2463 131.5H3258.3V1634H2463ZM2468.27 1634V1619M2468.27 131.5V146.5M2626.27 1634V1619M2626.27 131.5V146.5M2784.28 1634V1619M2784.28 131.5V146.5M2942.29 1634V1619M2942.29 131.5V146.5M3100.29 1634V1619M3100.29 131.5V146.5M3258.3 1634V1619M3258.3 131.5V146.5M2463 131.5H2478M3258.3 131.5H3243.3M2463 381.92H2478M3258.3 381.92H3243.3M2463 632.33H2478M3258.3 632.33H3243.3M2463 882.75H2478M3258.3 882.75H3243.3M2463 1133.17H2478M3258.3 1133.17H3243.3M2463 1383.58H2478M3258.3 1383.58H3243.3M2463 1634H2478M3258.3 1634H3243.3" stroke="#000" stroke-width="2.5" fill="none" stroke-linecap="square"/>
<path d="M2468.27 1634L2520.94 1382.33L2573.6 1333.5L2626.27 1288.68L2678.94 1235.34L2731.61 1139.43L2784.28 1045.52L2836.95 959.38L2889.62 874.74L2942.29 800.86L2994.96 741.51L3047.62 689.18L3100.29 653.12L3152.96 630.83L3205.63 614.3L3258.3 603.28" stroke="#1174BC" stroke-width="9.5" fill="none" stroke-linejoin="round"/>
<path d="M2454.42 1620.15H2482.12V1647.85H2454.42ZM2463.57 1629.3H2472.97V1638.7H2463.57ZM2507.09 1368.48H2534.79V1396.18H2507.09ZM2516.24 1377.63H2525.64V1387.03H2516.24ZM2559.75 1319.65H2587.45V1347.35H2559.75ZM2568.9 1328.8H2578.3V1338.2H2568.9ZM2612.42 1274.83H2640.12V1302.53H2612.42ZM2621.57 1283.98H2630.97V1293.38H2621.57ZM2665.09 1221.49H2692.79V1249.19H2665.09ZM2674.24 1230.64H2683.64V1240.04H2674.24ZM2717.76 1125.58H2745.46V1153.28H2717.76ZM2726.91 1134.73H2736.31V1144.13H2726.91ZM2770.43 1031.67H2798.13V1059.37H2770.43ZM2779.58 1040.82H2788.98V1050.22H2779.58ZM2823.1 945.53H2850.8V973.23H2823.1ZM2832.25 954.68H2841.65V964.08H2832.25ZM2875.77 860.89H2903.47V888.59H2875.77ZM2884.92 870.04H2894.32V879.44H2884.92ZM2928.44 787.01H2956.14V814.71H2928.44ZM2937.59 796.16H2946.99V805.56H2937.59ZM2981.11 727.66H3008.81V755.37H2981.11ZM2990.26 736.81H2999.66V746.22H2990.26ZM3033.77 675.33H3061.47V703.03H3033.77ZM3042.92 684.48H3052.32V693.88H3042.92ZM3086.44 639.27H3114.14V666.97H3086.44ZM3095.59 648.42H3104.99V657.82H3095.59ZM3139.11 616.98H3166.81V644.68H3139.11ZM3148.26 626.13H3157.66V635.53H3148.26ZM3191.78 600.45H3219.48V628.15H3191.78ZM3200.93 609.6H3210.33V619H3200.93ZM3244.45 589.43H3272.15V617.13H3244.45ZM3253.6 598.58H3263V607.98H3253.6Z" fill="#1174BC" fill-rule="evenodd"/>
<path d="M2468.27 1634L2520.94 1307.71L2573.6 1260.88L2626.27 1213.05L2678.94 1170.48L2731.61 1080.58L2784.28 996.44L2836.95 921.06L2889.62 852.2L2942.29 794.6L2994.96 745.52L3047.62 708.71L3100.29 681.92L3152.96 668.39L3205.63 656.62L3258.3 649.11" stroke="#EDB120" stroke-width="9.5" fill="none" stroke-linejoin="round"/>
<path d="M2454.42 1620.15H2482.12V1647.85H2454.42ZM2463.57 1629.3H2472.97V1638.7H2463.57ZM2507.09 1293.86H2534.79V1321.56H2507.09ZM2516.24 1303.01H2525.64V1312.41H2516.24ZM2559.75 1247.03H2587.45V1274.73H2559.75ZM2568.9 1256.18H2578.3V1265.58H2568.9ZM2612.42 1199.2H2640.12V1226.9H2612.42ZM2621.57 1208.35H2630.97V1217.75H2621.57ZM2665.09 1156.63H2692.79V1184.33H2665.09ZM2674.24 1165.78H2683.64V1175.18H2674.24ZM2717.76 1066.73H2745.46V1094.43H2717.76ZM2726.91 1075.88H2736.31V1085.28H2726.91ZM2770.43 982.59H2798.13V1010.29H2770.43ZM2779.58 991.74H2788.98V1001.14H2779.58ZM2823.1 907.21H2850.8V934.91H2823.1ZM2832.25 916.36H2841.65V925.76H2832.25ZM2875.77 838.35H2903.47V866.05H2875.77ZM2884.92 847.5H2894.32V856.9H2884.92ZM2928.44 780.75H2956.14V808.45H2928.44ZM2937.59 789.9H2946.99V799.3H2937.59ZM2981.11 731.67H3008.81V759.37H2981.11ZM2990.26 740.82H2999.66V750.22H2990.26ZM3033.77 694.86H3061.47V722.56H3033.77ZM3042.92 704.01H3052.32V713.41H3042.92ZM3086.44 668.07H3114.14V695.77H3086.44ZM3095.59 677.22H3104.99V686.62H3095.59ZM3139.11 654.54H3166.81V682.24H3139.11ZM3148.26 663.69H3157.66V673.09H3148.26ZM3191.78 642.77H3219.48V670.47H3191.78ZM3200.93 651.92H3210.33V661.32H3200.93ZM3244.45 635.26H3272.15V662.96H3244.45ZM3253.6 644.41H3263V653.81H3253.6Z" fill="#EDB120" fill-rule="evenodd"/>
<path d="M2468.27 1634L2520.94 1236.09L2573.6 1154.2L2626.27 1079.58L2678.94 924.82L2731.61 792.6L2784.28 679.16L2836.95 583.5L2889.62 505.62L2942.29 443.27L2994.96 393.94L3047.62 357.88L3100.29 333.34L3152.96 320.31L3205.63 314.8L3258.3 317.81" stroke="#7E2F8E" stroke-width="9.5" fill="none" stroke-linejoin="round"/>
<path d="M2454.42 1620.15H2482.12V1647.85H2454.42ZM2463.57 1629.3H2472.97V1638.7H2463.57ZM2507.09 1222.24H2534.79V1249.94H2507.09ZM2516.24 1231.39H2525.64V1240.79H2516.24ZM2559.75 1140.35H2587.45V1168.05H2559.75ZM2568.9 1149.5H2578.3V1158.9H2568.9ZM2612.42 1065.73H2640.12V1093.43H2612.42ZM2621.57 1074.88H2630.97V1084.28H2621.57ZM2665.09 910.97H2692.79V938.67H2665.09ZM2674.24 920.12H2683.64V929.52H2674.24ZM2717.76 778.75H2745.46V806.45H2717.76ZM2726.91 787.9H2736.31V797.3H2726.91ZM2770.43 665.31H2798.13V693.01H2770.43ZM2779.58 674.46H2788.98V683.86H2779.58ZM2823.1 569.65H2850.8V597.35H2823.1ZM2832.25 578.8H2841.65V588.2H2832.25ZM2875.77 491.77H2903.47V519.47H2875.77ZM2884.92 500.92H2894.32V510.32H2884.92ZM2928.44 429.42H2956.14V457.12H2928.44ZM2937.59 438.57H2946.99V447.97H2937.59ZM2981.11 380.09H3008.81V407.79H2981.11ZM2990.26 389.24H2999.66V398.64H2990.26ZM3033.77 344.03H3061.47V371.73H3033.77ZM3042.92 353.18H3052.32V362.58H3042.92ZM3086.44 319.49H3114.14V347.19H3086.44ZM3095.59 328.64H3104.99V338.04H3095.59ZM3139.11 306.46H3166.81V334.16H3139.11ZM3148.26 315.61H3157.66V325.01H3148.26ZM3191.78 300.95H3219.48V328.65H3191.78ZM3200.93 310.1H3210.33V319.5H3200.93ZM3244.45 303.96H3272.15V331.66H3244.45ZM3253.6 313.11H3263V322.51H3253.6Z" fill="#7E2F8E" fill-rule="evenodd"/>
<path d="M2468.27 1634L2520.94 1525.32L2573.6 1506.04L2626.27 1456.96L2678.94 1405.87L2731.61 1346.02L2784.28 1292.93L2836.95 1240.85L2889.62 1196.02L2942.29 1160.71L2994.96 1140.68L3047.62 1137.17L3100.29 1154.2L3152.96 1197.02L3205.63 1267.14L3258.3 1366.55" stroke="#1174BC" stroke-width="9.5" fill="none" stroke-linejoin="round" stroke-dasharray="36 38"/>
<path d="M2468.27 1610.6L2485.87 1634L2468.27 1657.4L2450.67 1634ZM2468.27 1626.7L2473.87 1634L2468.27 1641.3L2462.67 1634ZM2520.94 1501.92L2538.54 1525.32L2520.94 1548.72L2503.34 1525.32ZM2520.94 1518.02L2526.54 1525.32L2520.94 1532.62L2515.34 1525.32ZM2573.6 1482.64L2591.2 1506.04L2573.6 1529.44L2556 1506.04ZM2573.6 1498.74L2579.2 1506.04L2573.6 1513.34L2568 1506.04ZM2626.27 1433.56L2643.87 1456.96L2626.27 1480.36L2608.67 1456.96ZM2626.27 1449.66L2631.87 1456.96L2626.27 1464.26L2620.67 1456.96ZM2678.94 1382.47L2696.54 1405.87L2678.94 1429.27L2661.34 1405.87ZM2678.94 1398.57L2684.54 1405.87L2678.94 1413.17L2673.34 1405.87ZM2731.61 1322.62L2749.21 1346.02L2731.61 1369.42L2714.01 1346.02ZM2731.61 1338.72L2737.21 1346.02L2731.61 1353.32L2726.01 1346.02ZM2784.28 1269.53L2801.88 1292.93L2784.28 1316.33L2766.68 1292.93ZM2784.28 1285.63L2789.88 1292.93L2784.28 1300.23L2778.68 1292.93ZM2836.95 1217.45L2854.55 1240.85L2836.95 1264.25L2819.35 1240.85ZM2836.95 1233.55L2842.55 1240.85L2836.95 1248.15L2831.35 1240.85ZM2889.62 1172.62L2907.22 1196.02L2889.62 1219.42L2872.02 1196.02ZM2889.62 1188.72L2895.22 1196.02L2889.62 1203.32L2884.02 1196.02ZM2942.29 1137.31L2959.89 1160.71L2942.29 1184.11L2924.69 1160.71ZM2942.29 1153.41L2947.89 1160.71L2942.29 1168.01L2936.69 1160.71ZM2994.96 1117.28L3012.56 1140.68L2994.96 1164.08L2977.36 1140.68ZM2994.96 1133.38L3000.56 1140.68L2994.96 1147.98L2989.36 1140.68ZM3047.62 1113.77L3065.22 1137.17L3047.62 1160.57L3030.02 1137.17ZM3047.62 1129.87L3053.22 1137.17L3047.62 1144.47L3042.02 1137.17ZM3100.29 1130.8L3117.89 1154.2L3100.29 1177.6L3082.69 1154.2ZM3100.29 1146.9L3105.89 1154.2L3100.29 1161.5L3094.69 1154.2ZM3152.96 1173.62L3170.56 1197.02L3152.96 1220.42L3135.36 1197.02ZM3152.96 1189.72L3158.56 1197.02L3152.96 1204.32L3147.36 1197.02ZM3205.63 1243.74L3223.23 1267.14L3205.63 1290.54L3188.03 1267.14ZM3205.63 1259.84L3211.23 1267.14L3205.63 1274.44L3200.03 1267.14ZM3258.3 1343.15L3275.9 1366.55L3258.3 1389.95L3240.7 1366.55ZM3258.3 1359.25L3263.9 1366.55L3258.3 1373.85L3252.7 1366.55Z" fill="#1174BC" fill-rule="evenodd"/>
<path d="M2468.27 1634L2520.94 1521.06L2573.6 1481.25L2626.27 1442.18L2678.94 1369.56L2731.61 1297.19L2784.28 1228.83L2836.95 1169.23L2889.62 1114.64L2942.29 1069.06L2994.96 1037.01L3047.62 1013.47L3100.29 1009.21L3152.96 1019.98L3205.63 1049.78L3258.3 1096.61" stroke="#EDB120" stroke-width="9.5" fill="none" stroke-linejoin="round" stroke-dasharray="36 38"/>
<path d="M2468.27 1610.6L2485.87 1634L2468.27 1657.4L2450.67 1634ZM2468.27 1626.7L2473.87 1634L2468.27 1641.3L2462.67 1634ZM2520.94 1497.66L2538.54 1521.06L2520.94 1544.46L2503.34 1521.06ZM2520.94 1513.76L2526.54 1521.06L2520.94 1528.36L2515.34 1521.06ZM2573.6 1457.85L2591.2 1481.25L2573.6 1504.65L2556 1481.25ZM2573.6 1473.95L2579.2 1481.25L2573.6 1488.55L2568 1481.25ZM2626.27 1418.78L2643.87 1442.18L2626.27 1465.58L2608.67 1442.18ZM2626.27 1434.88L2631.87 1442.18L2626.27 1449.48L2620.67 1442.18ZM2678.94 1346.16L2696.54 1369.56L2678.94 1392.96L2661.34 1369.56ZM2678.94 1362.26L2684.54 1369.56L2678.94 1376.86L2673.34 1369.56ZM2731.61 1273.79L2749.21 1297.19L2731.61 1320.59L2714.01 1297.19ZM2731.61 1289.89L2737.21 1297.19L2731.61 1304.49L2726.01 1297.19ZM2784.28 1205.43L2801.88 1228.83L2784.28 1252.23L2766.68 1228.83ZM2784.28 1221.53L2789.88 1228.83L2784.28 1236.13L2778.68 1228.83ZM2836.95 1145.83L2854.55 1169.23L2836.95 1192.63L2819.35 1169.23ZM2836.95 1161.93L2842.55 1169.23L2836.95 1176.53L2831.35 1169.23ZM2889.62 1091.24L2907.22 1114.64L2889.62 1138.04L2872.02 1114.64ZM2889.62 1107.34L2895.22 1114.64L2889.62 1121.94L2884.02 1114.64ZM2942.29 1045.66L2959.89 1069.06L2942.29 1092.46L2924.69 1069.06ZM2942.29 1061.76L2947.89 1069.06L2942.29 1076.36L2936.69 1069.06ZM2994.96 1013.61L3012.56 1037.01L2994.96 1060.41L2977.36 1037.01ZM2994.96 1029.71L3000.56 1037.01L2994.96 1044.31L2989.36 1037.01ZM3047.62 990.07L3065.22 1013.47L3047.62 1036.87L3030.02 1013.47ZM3047.62 1006.17L3053.22 1013.47L3047.62 1020.77L3042.02 1013.47ZM3100.29 985.81L3117.89 1009.21L3100.29 1032.61L3082.69 1009.21ZM3100.29 1001.91L3105.89 1009.21L3100.29 1016.51L3094.69 1009.21ZM3152.96 996.58L3170.56 1019.98L3152.96 1043.38L3135.36 1019.98ZM3152.96 1012.68L3158.56 1019.98L3152.96 1027.28L3147.36 1019.98ZM3205.63 1026.38L3223.23 1049.78L3205.63 1073.18L3188.03 1049.78ZM3205.63 1042.48L3211.23 1049.78L3205.63 1057.08L3200.03 1049.78ZM3258.3 1073.21L3275.9 1096.61L3258.3 1120.01L3240.7 1096.61ZM3258.3 1089.31L3263.9 1096.61L3258.3 1103.91L3252.7 1096.61Z" fill="#EDB120" fill-rule="evenodd"/>
<path d="M2468.27 1634L2520.94 1399.36L2573.6 1356.79L2626.27 1275.9L2678.94 1204.54L2731.61 1143.68L2784.28 1095.85L2836.95 1057.29L2889.62 1032L2942.29 1013.47L2994.96 1008.46L3047.62 1011.46L3100.29 1024.24L3152.96 1046.52L3205.63 1077.57L3258.3 1117.14" stroke="#7E2F8E" stroke-width="9.5" fill="none" stroke-linejoin="round" stroke-dasharray="36 38"/>
<path d="M2468.27 1610.6L2485.87 1634L2468.27 1657.4L2450.67 1634ZM2468.27 1626.7L2473.87 1634L2468.27 1641.3L2462.67 1634ZM2520.94 1375.96L2538.54 1399.36L2520.94 1422.76L2503.34 1399.36ZM2520.94 1392.06L2526.54 1399.36L2520.94 1406.66L2515.34 1399.36ZM2573.6 1333.39L2591.2 1356.79L2573.6 1380.19L2556 1356.79ZM2573.6 1349.49L2579.2 1356.79L2573.6 1364.09L2568 1356.79ZM2626.27 1252.5L2643.87 1275.9L2626.27 1299.3L2608.67 1275.9ZM2626.27 1268.6L2631.87 1275.9L2626.27 1283.2L2620.67 1275.9ZM2678.94 1181.14L2696.54 1204.54L2678.94 1227.94L2661.34 1204.54ZM2678.94 1197.24L2684.54 1204.54L2678.94 1211.84L2673.34 1204.54ZM2731.61 1120.28L2749.21 1143.68L2731.61 1167.08L2714.01 1143.68ZM2731.61 1136.38L2737.21 1143.68L2731.61 1150.98L2726.01 1143.68ZM2784.28 1072.45L2801.88 1095.85L2784.28 1119.25L2766.68 1095.85ZM2784.28 1088.55L2789.88 1095.85L2784.28 1103.15L2778.68 1095.85ZM2836.95 1033.89L2854.55 1057.29L2836.95 1080.69L2819.35 1057.29ZM2836.95 1049.99L2842.55 1057.29L2836.95 1064.59L2831.35 1057.29ZM2889.62 1008.6L2907.22 1032L2889.62 1055.4L2872.02 1032ZM2889.62 1024.7L2895.22 1032L2889.62 1039.3L2884.02 1032ZM2942.29 990.07L2959.89 1013.47L2942.29 1036.87L2924.69 1013.47ZM2942.29 1006.17L2947.89 1013.47L2942.29 1020.77L2936.69 1013.47ZM2994.96 985.06L3012.56 1008.46L2994.96 1031.86L2977.36 1008.46ZM2994.96 1001.16L3000.56 1008.46L2994.96 1015.76L2989.36 1008.46ZM3047.62 988.06L3065.22 1011.46L3047.62 1034.86L3030.02 1011.46ZM3047.62 1004.16L3053.22 1011.46L3047.62 1018.76L3042.02 1011.46ZM3100.29 1000.84L3117.89 1024.24L3100.29 1047.64L3082.69 1024.24ZM3100.29 1016.94L3105.89 1024.24L3100.29 1031.54L3094.69 1024.24ZM3152.96 1023.12L3170.56 1046.52L3152.96 1069.92L3135.36 1046.52ZM3152.96 1039.22L3158.56 1046.52L3152.96 1053.82L3147.36 1046.52ZM3205.63 1054.17L3223.23 1077.57L3205.63 1100.97L3188.03 1077.57ZM3205.63 1070.27L3211.23 1077.57L3205.63 1084.87L3200.03 1077.57ZM3258.3 1093.74L3275.9 1117.14L3258.3 1140.54L3240.7 1117.14ZM3258.3 1109.84L3263.9 1117.14L3258.3 1124.44L3252.7 1117.14Z" fill="#7E2F8E" fill-rule="evenodd"/>
<g transform="translate(2331.75,159.7)" fill="#262626"><text x="0" y="0" font-size="75">0.6</text></g>
<g transform="translate(2331.6,410.12)" fill="#262626"><text x="0" y="0" font-size="75">0.5</text></g>
<g transform="translate(2330.63,660.53)" fill="#262626"><text x="0" y="0" font-size="75">0.4</text></g>
<g transform="translate(2331.75,910.95)" fill="#262626"><text x="0" y="0" font-size="75">0.3</text></g>
<g transform="translate(2332.2,1161.37)" fill="#262626"><text x="0" y="0" font-size="75">0.2</text></g>
<g transform="translate(2333.92,1411.78)" fill="#262626"><text x="0" y="0" font-size="75">0. </text><path d="M0.3578 0L0.2668 0L0.2668 -0.492L0.1001 -0.492L0.1001 -0.549C0.19 -0.552 0.27 -0.57 0.2917 -0.684L0.3578 -0.684Z" transform="translate(62.55,0) scale(75)"/></g>
<g transform="translate(2396.62,1662.2)" fill="#262626"><text x="0" y="0" font-size="75">0</text></g>
<g transform="translate(2435.12,1732.6)" fill="#262626"><text x="0" y="0" font-size="75">0</text></g>
<g transform="translate(2593.35,1732.6)" fill="#262626"><text x="0" y="0" font-size="75">3</text></g>
<g transform="translate(2750.87,1732.6)" fill="#262626"><text x="0" y="0" font-size="75">6</text></g>
<g transform="translate(2909.14,1732.6)" fill="#262626"><text x="0" y="0" font-size="75">9</text></g>
<g transform="translate(3058.11,1732.6)" fill="#262626"><text x="0" y="0" font-size="75"> 2</text><path d="M0.3578 0L0.2668 0L0.2668 -0.492L0.1001 -0.492L0.1001 -0.549C0.19 -0.552 0.27 -0.57 0.2917 -0.684L0.3578 -0.684Z" transform="translate(0,0) scale(75)"/></g>
<g transform="translate(3215.82,1732.6)" fill="#262626"><text x="0" y="0" font-size="75"> 5</text><path d="M0.3578 0L0.2668 0L0.2668 -0.492L0.1001 -0.492L0.1001 -0.549C0.19 -0.552 0.27 -0.57 0.2917 -0.684L0.3578 -0.684Z" transform="translate(0,0) scale(75)"/></g>
<path d="M267.17 2093.3V3596.3M422.4 2093.3V3596.3M577.62 2093.3V3596.3M732.85 2093.3V3596.3M888.07 2093.3V3596.3M1043.3 2093.3V3596.3M262 2093.3H1043.3M262 2343.8H1043.3M262 2594.3H1043.3M262 2844.8H1043.3M262 3095.3H1043.3M262 3345.8H1043.3M262 3596.3H1043.3" stroke="#DEDEDE" stroke-width="2.4" fill="none"/>
<path d="M262 2093.3H1043.3V3596.3H262ZM267.17 3596.3V3581.3M267.17 2093.3V2108.3M422.4 3596.3V3581.3M422.4 2093.3V2108.3M577.62 3596.3V3581.3M577.62 2093.3V2108.3M732.85 3596.3V3581.3M732.85 2093.3V2108.3M888.07 3596.3V3581.3M888.07 2093.3V2108.3M1043.3 3596.3V3581.3M1043.3 2093.3V2108.3M262 2093.3H277M1043.3 2093.3H1028.3M262 2343.8H277M1043.3 2343.8H1028.3M262 2594.3H277M1043.3 2594.3H1028.3M262 2844.8H277M1043.3 2844.8H1028.3M262 3095.3H277M1043.3 3095.3H1028.3M262 3345.8H277M1043.3 3345.8H1028.3M262 3596.3H277M1043.3 3596.3H1028.3" stroke="#000" stroke-width="2.5" fill="none" stroke-linecap="square"/>
<path d="M267.17 2844.8L318.92 2752.62L370.66 2703.52L422.4 2590.79L474.14 2497.11L525.88 2419.2L577.62 2355.57L629.37 2303.47L681.11 2259.13L732.85 2223.56L784.59 2191.5L836.33 2161.94L888.07 2132.13L939.82 2116.85L991.56 2102.57L1043.3 2102.57" stroke="#1174BC" stroke-width="9.5" fill="none" stroke-linejoin="round"/>
<path d="M253.32 2830.95H281.02V2858.65H253.32ZM262.47 2840.1H271.87V2849.5H262.47ZM305.07 2738.77H332.77V2766.47H305.07ZM314.22 2747.92H323.62V2757.32H314.22ZM356.81 2689.67H384.51V2717.37H356.81ZM365.96 2698.82H375.36V2708.22H365.96ZM408.55 2576.94H436.25V2604.64H408.55ZM417.7 2586.09H427.1V2595.49H417.7ZM460.29 2483.26H487.99V2510.96H460.29ZM469.44 2492.41H478.84V2501.81H469.44ZM512.03 2405.35H539.73V2433.05H512.03ZM521.18 2414.5H530.58V2423.9H521.18ZM563.77 2341.72H591.47V2369.42H563.77ZM572.92 2350.87H582.32V2360.27H572.92ZM615.52 2289.62H643.22V2317.32H615.52ZM624.67 2298.77H634.07V2308.17H624.67ZM667.26 2245.28H694.96V2272.98H667.26ZM676.41 2254.43H685.81V2263.83H676.41ZM719 2209.71H746.7V2237.41H719ZM728.15 2218.86H737.55V2228.26H728.15ZM770.74 2177.65H798.44V2205.35H770.74ZM779.89 2186.8H789.29V2196.2H779.89ZM822.48 2148.09H850.18V2175.79H822.48ZM831.63 2157.24H841.03V2166.64H831.63ZM874.22 2118.28H901.92V2145.98H874.22ZM883.37 2127.43H892.77V2136.83H883.37ZM925.97 2103H953.67V2130.7H925.97ZM935.12 2112.15H944.52V2121.55H935.12ZM977.71 2088.72H1005.41V2116.42H977.71ZM986.86 2097.87H996.26V2107.27H986.86ZM1029.45 2088.72H1057.15V2116.42H1029.45ZM1038.6 2097.87H1048V2107.27H1038.6Z" fill="#1174BC" fill-rule="evenodd"/>
<path d="M267.17 2844.8L318.92 2775.16L370.66 2733.08L422.4 2653.42L474.14 2588.54L525.88 2527.17L577.62 2479.82L629.37 2438.99L681.11 2408.18L732.85 2384.38L784.59 2366.35L836.33 2354.82L888.07 2348.81L939.82 2345.8L991.56 2343.8L1043.3 2343.8" stroke="#EDB120" stroke-width="9.5" fill="none" stroke-linejoin="round"/>
<path d="M253.32 2830.95H281.02V2858.65H253.32ZM262.47 2840.1H271.87V2849.5H262.47ZM305.07 2761.31H332.77V2789.01H305.07ZM314.22 2770.46H323.62V2779.86H314.22ZM356.81 2719.23H384.51V2746.93H356.81ZM365.96 2728.38H375.36V2737.78H365.96ZM408.55 2639.57H436.25V2667.27H408.55ZM417.7 2648.72H427.1V2658.12H417.7ZM460.29 2574.69H487.99V2602.39H460.29ZM469.44 2583.84H478.84V2593.24H469.44ZM512.03 2513.32H539.73V2541.02H512.03ZM521.18 2522.47H530.58V2531.87H521.18ZM563.77 2465.97H591.47V2493.67H563.77ZM572.92 2475.12H582.32V2484.52H572.92ZM615.52 2425.14H643.22V2452.84H615.52ZM624.67 2434.29H634.07V2443.69H624.67ZM667.26 2394.33H694.96V2422.03H667.26ZM676.41 2403.48H685.81V2412.88H676.41ZM719 2370.53H746.7V2398.23H719ZM728.15 2379.68H737.55V2389.08H728.15ZM770.74 2352.5H798.44V2380.2H770.74ZM779.89 2361.65H789.29V2371.05H779.89ZM822.48 2340.97H850.18V2368.67H822.48ZM831.63 2350.12H841.03V2359.52H831.63ZM874.22 2334.96H901.92V2362.66H874.22ZM883.37 2344.11H892.77V2353.51H883.37ZM925.97 2331.95H953.67V2359.65H925.97ZM935.12 2341.1H944.52V2350.5H935.12ZM977.71 2329.95H1005.41V2357.65H977.71ZM986.86 2339.1H996.26V2348.5H986.86ZM1029.45 2329.95H1057.15V2357.65H1029.45ZM1038.6 2339.1H1048V2348.5H1038.6Z" fill="#EDB120" fill-rule="evenodd"/>
<path d="M267.17 2844.8L318.92 2731.32L370.66 2695.25L422.4 2625.61L474.14 2568L525.88 2520.9L577.62 2482.83L629.37 2454.02L681.11 2435.48L732.85 2421.71L784.59 2414.19L836.33 2413.19L888.07 2417.7L939.82 2419.7L991.56 2423.71L1043.3 2423.71" stroke="#7E2F8E" stroke-width="9.5" fill="none" stroke-linejoin="round"/>
<path d="M253.32 2830.95H281.02V2858.65H253.32ZM262.47 2840.1H271.87V2849.5H262.47ZM305.07 2717.47H332.77V2745.17H305.07ZM314.22 2726.62H323.62V2736.02H314.22ZM356.81 2681.4H384.51V2709.1H356.81ZM365.96 2690.55H375.36V2699.95H365.96ZM408.55 2611.76H436.25V2639.46H408.55ZM417.7 2620.91H427.1V2630.31H417.7ZM460.29 2554.15H487.99V2581.85H460.29ZM469.44 2563.3H478.84V2572.7H469.44ZM512.03 2507.05H539.73V2534.75H512.03ZM521.18 2516.2H530.58V2525.6H521.18ZM563.77 2468.98H591.47V2496.68H563.77ZM572.92 2478.13H582.32V2487.53H572.92ZM615.52 2440.17H643.22V2467.87H615.52ZM624.67 2449.32H634.07V2458.72H624.67ZM667.26 2421.63H694.96V2449.33H667.26ZM676.41 2430.78H685.81V2440.18H676.41ZM719 2407.86H746.7V2435.56H719ZM728.15 2417.01H737.55V2426.41H728.15ZM770.74 2400.34H798.44V2428.04H770.74ZM779.89 2409.49H789.29V2418.89H779.89ZM822.48 2399.34H850.18V2427.04H822.48ZM831.63 2408.49H841.03V2417.89H831.63ZM874.22 2403.85H901.92V2431.55H874.22ZM883.37 2413H892.77V2422.4H883.37ZM925.97 2405.85H953.67V2433.55H925.97ZM935.12 2415H944.52V2424.4H935.12ZM977.71 2409.86H1005.41V2437.56H977.71ZM986.86 2419.01H996.26V2428.41H986.86ZM1029.45 2409.86H1057.15V2437.56H1029.45ZM1038.6 2419.01H1048V2428.41H1038.6Z" fill="#7E2F8E" fill-rule="evenodd"/>
<path d="M267.17 2844.8L318.92 2862.08L370.66 2875.11L422.4 2892.65L474.14 2912.18L525.88 2944.25L577.62 2984.33L629.37 3030.92L681.11 3074.51L732.85 3134.38L784.59 3186.73L836.33 3237.08L888.07 3285.18L939.82 3311.48L991.56 3336.78L1043.3 3358.58" stroke="#1174BC" stroke-width="9.5" fill="none" stroke-linejoin="round" stroke-dasharray="36 38"/>
<path d="M267.17 2821.4L284.77 2844.8L267.17 2868.2L249.57 2844.8ZM267.17 2837.5L272.77 2844.8L267.17 2852.1L261.57 2844.8ZM318.92 2838.68L336.52 2862.08L318.92 2885.48L301.32 2862.08ZM318.92 2854.78L324.52 2862.08L318.92 2869.38L313.32 2862.08ZM370.66 2851.71L388.26 2875.11L370.66 2898.51L353.06 2875.11ZM370.66 2867.81L376.26 2875.11L370.66 2882.41L365.06 2875.11ZM422.4 2869.25L440 2892.65L422.4 2916.05L404.8 2892.65ZM422.4 2885.35L428 2892.65L422.4 2899.95L416.8 2892.65ZM474.14 2888.78L491.74 2912.18L474.14 2935.58L456.54 2912.18ZM474.14 2904.88L479.74 2912.18L474.14 2919.48L468.54 2912.18ZM525.88 2920.85L543.48 2944.25L525.88 2967.65L508.28 2944.25ZM525.88 2936.95L531.48 2944.25L525.88 2951.55L520.28 2944.25ZM577.62 2960.93L595.22 2984.33L577.62 3007.73L560.02 2984.33ZM577.62 2977.03L583.22 2984.33L577.62 2991.63L572.02 2984.33ZM629.37 3007.52L646.97 3030.92L629.37 3054.32L611.77 3030.92ZM629.37 3023.62L634.97 3030.92L629.37 3038.22L623.77 3030.92ZM681.11 3051.11L698.71 3074.51L681.11 3097.91L663.51 3074.51ZM681.11 3067.21L686.71 3074.51L681.11 3081.81L675.51 3074.51ZM732.85 3110.98L750.45 3134.38L732.85 3157.78L715.25 3134.38ZM732.85 3127.08L738.45 3134.38L732.85 3141.68L727.25 3134.38ZM784.59 3163.33L802.19 3186.73L784.59 3210.13L766.99 3186.73ZM784.59 3179.43L790.19 3186.73L784.59 3194.03L778.99 3186.73ZM836.33 3213.68L853.93 3237.08L836.33 3260.48L818.73 3237.08ZM836.33 3229.78L841.93 3237.08L836.33 3244.38L830.73 3237.08ZM888.07 3261.78L905.67 3285.18L888.07 3308.58L870.47 3285.18ZM888.07 3277.88L893.67 3285.18L888.07 3292.48L882.47 3285.18ZM939.82 3288.08L957.42 3311.48L939.82 3334.88L922.22 3311.48ZM939.82 3304.18L945.42 3311.48L939.82 3318.78L934.22 3311.48ZM991.56 3313.38L1009.16 3336.78L991.56 3360.18L973.96 3336.78ZM991.56 3329.48L997.16 3336.78L991.56 3344.08L985.96 3336.78ZM1043.3 3335.18L1060.9 3358.58L1043.3 3381.98L1025.7 3358.58ZM1043.3 3351.28L1048.9 3358.58L1043.3 3365.88L1037.7 3358.58Z" fill="#1174BC" fill-rule="evenodd"/>
<path d="M267.17 2844.8L318.92 2971.8L370.66 2980.07L422.4 2989.34L474.14 3000.11L525.88 3018.4L577.62 3040.44L629.37 3066.49L681.11 3095.05L732.85 3127.87L784.59 3164.94L836.33 3206.52L888.07 3255.37L939.82 3278.67L991.56 3302.46L1043.3 3328.77" stroke="#EDB120" stroke-width="9.5" fill="none" stroke-linejoin="round" stroke-dasharray="36 38"/>
<path d="M267.17 2821.4L284.77 2844.8L267.17 2868.2L249.57 2844.8ZM267.17 2837.5L272.77 2844.8L267.17 2852.1L261.57 2844.8ZM318.92 2948.4L336.52 2971.8L318.92 2995.2L301.32 2971.8ZM318.92 2964.5L324.52 2971.8L318.92 2979.1L313.32 2971.8ZM370.66 2956.67L388.26 2980.07L370.66 3003.47L353.06 2980.07ZM370.66 2972.77L376.26 2980.07L370.66 2987.37L365.06 2980.07ZM422.4 2965.94L440 2989.34L422.4 3012.74L404.8 2989.34ZM422.4 2982.04L428 2989.34L422.4 2996.64L416.8 2989.34ZM474.14 2976.71L491.74 3000.11L474.14 3023.51L456.54 3000.11ZM474.14 2992.81L479.74 3000.11L474.14 3007.41L468.54 3000.11ZM525.88 2995L543.48 3018.4L525.88 3041.8L508.28 3018.4ZM525.88 3011.1L531.48 3018.4L525.88 3025.7L520.28 3018.4ZM577.62 3017.04L595.22 3040.44L577.62 3063.84L560.02 3040.44ZM577.62 3033.14L583.22 3040.44L577.62 3047.74L572.02 3040.44ZM629.37 3043.09L646.97 3066.49L629.37 3089.89L611.77 3066.49ZM629.37 3059.19L634.97 3066.49L629.37 3073.79L623.77 3066.49ZM681.11 3071.65L698.71 3095.05L681.11 3118.45L663.51 3095.05ZM681.11 3087.75L686.71 3095.05L681.11 3102.35L675.51 3095.05ZM732.85 3104.47L750.45 3127.87L732.85 3151.27L715.25 3127.87ZM732.85 3120.57L738.45 3127.87L732.85 3135.17L727.25 3127.87ZM784.59 3141.54L802.19 3164.94L784.59 3188.34L766.99 3164.94ZM784.59 3157.64L790.19 3164.94L784.59 3172.24L778.99 3164.94ZM836.33 3183.12L853.93 3206.52L836.33 3229.92L818.73 3206.52ZM836.33 3199.22L841.93 3206.52L836.33 3213.82L830.73 3206.52ZM888.07 3231.97L905.67 3255.37L888.07 3278.77L870.47 3255.37ZM888.07 3248.07L893.67 3255.37L888.07 3262.67L882.47 3255.37ZM939.82 3255.27L957.42 3278.67L939.82 3302.07L922.22 3278.67ZM939.82 3271.37L945.42 3278.67L939.82 3285.97L934.22 3278.67ZM991.56 3279.06L1009.16 3302.46L991.56 3325.86L973.96 3302.46ZM991.56 3295.16L997.16 3302.46L991.56 3309.76L985.96 3302.46ZM1043.3 3305.37L1060.9 3328.77L1043.3 3352.17L1025.7 3328.77ZM1043.3 3321.47L1048.9 3328.77L1043.3 3336.07L1037.7 3328.77Z" fill="#EDB120" fill-rule="evenodd"/>
<path d="M267.17 2844.8L318.92 2822.76L370.66 2819.75L422.4 2819.75L474.14 2822L525.88 2821L577.62 2830.52L629.37 2845.8L681.11 2868.6L732.85 2896.9L784.59 2928.97L836.33 2961.78L888.07 2993.6L939.82 3011.88L991.56 3029.42L1043.3 3047.7" stroke="#7E2F8E" stroke-width="9.5" fill="none" stroke-linejoin="round" stroke-dasharray="36 38"/>
<path d="M267.17 2821.4L284.77 2844.8L267.17 2868.2L249.57 2844.8ZM267.17 2837.5L272.77 2844.8L267.17 2852.1L261.57 2844.8ZM318.92 2799.36L336.52 2822.76L318.92 2846.16L301.32 2822.76ZM318.92 2815.46L324.52 2822.76L318.92 2830.06L313.32 2822.76ZM370.66 2796.35L388.26 2819.75L370.66 2843.15L353.06 2819.75ZM370.66 2812.45L376.26 2819.75L370.66 2827.05L365.06 2819.75ZM422.4 2796.35L440 2819.75L422.4 2843.15L404.8 2819.75ZM422.4 2812.45L428 2819.75L422.4 2827.05L416.8 2819.75ZM474.14 2798.6L491.74 2822L474.14 2845.4L456.54 2822ZM474.14 2814.7L479.74 2822L474.14 2829.3L468.54 2822ZM525.88 2797.6L543.48 2821L525.88 2844.4L508.28 2821ZM525.88 2813.7L531.48 2821L525.88 2828.3L520.28 2821ZM577.62 2807.12L595.22 2830.52L577.62 2853.92L560.02 2830.52ZM577.62 2823.22L583.22 2830.52L577.62 2837.82L572.02 2830.52ZM629.37 2822.4L646.97 2845.8L629.37 2869.2L611.77 2845.8ZM629.37 2838.5L634.97 2845.8L629.37 2853.1L623.77 2845.8ZM681.11 2845.2L698.71 2868.6L681.11 2892L663.51 2868.6ZM681.11 2861.3L686.71 2868.6L681.11 2875.9L675.51 2868.6ZM732.85 2873.5L750.45 2896.9L732.85 2920.3L715.25 2896.9ZM732.85 2889.6L738.45 2896.9L732.85 2904.2L727.25 2896.9ZM784.59 2905.57L802.19 2928.97L784.59 2952.37L766.99 2928.97ZM784.59 2921.67L790.19 2928.97L784.59 2936.27L778.99 2928.97ZM836.33 2938.38L853.93 2961.78L836.33 2985.18L818.73 2961.78ZM836.33 2954.48L841.93 2961.78L836.33 2969.08L830.73 2961.78ZM888.07 2970.2L905.67 2993.6L888.07 3017L870.47 2993.6ZM888.07 2986.3L893.67 2993.6L888.07 3000.9L882.47 2993.6ZM939.82 2988.48L957.42 3011.88L939.82 3035.28L922.22 3011.88ZM939.82 3004.58L945.42 3011.88L939.82 3019.18L934.22 3011.88ZM991.56 3006.02L1009.16 3029.42L991.56 3052.82L973.96 3029.42ZM991.56 3022.12L997.16 3029.42L991.56 3036.72L985.96 3029.42ZM1043.3 3024.3L1060.9 3047.7L1043.3 3071.11L1025.7 3047.7ZM1043.3 3040.4L1048.9 3047.7L1043.3 3055.01L1037.7 3047.7Z" fill="#7E2F8E" fill-rule="evenodd"/>
<g transform="translate(153.91,2121.5)" fill="#262626"><text x="0" y="0" font-size="75">30</text></g>
<g transform="translate(153.91,2372)" fill="#262626"><text x="0" y="0" font-size="75">20</text></g>
<g transform="translate(153.91,2622.5)" fill="#262626"><text x="0" y="0" font-size="75"> 0</text><path d="M0.3578 0L0.2668 0L0.2668 -0.492L0.1001 -0.492L0.1001 -0.549C0.19 -0.552 0.27 -0.57 0.2917 -0.684L0.3578 -0.684Z" transform="translate(0,0) scale(75)"/></g>
<g transform="translate(195.62,2873)" fill="#262626"><text x="0" y="0" font-size="75">0</text></g>
<g transform="translate(128.94,3123.5)" fill="#262626"><text x="0" y="0" font-size="75">- 0</text><path d="M0.3578 0L0.2668 0L0.2668 -0.492L0.1001 -0.492L0.1001 -0.549C0.19 -0.552 0.27 -0.57 0.2917 -0.684L0.3578 -0.684Z" transform="translate(24.98,0) scale(75)"/></g>
<g transform="translate(128.94,3374)" fill="#262626"><text x="0" y="0" font-size="75">-20</text></g>
<g transform="translate(128.94,3624.5)" fill="#262626"><text x="0" y="0" font-size="75">-30</text></g>
<g transform="translate(234.02,3694.9)" fill="#262626"><text x="0" y="0" font-size="75">0</text></g>
<g transform="translate(389.47,3694.9)" fill="#262626"><text x="0" y="0" font-size="75">3</text></g>
<g transform="translate(544.21,3694.9)" fill="#262626"><text x="0" y="0" font-size="75">6</text></g>
<g transform="translate(699.7,3694.9)" fill="#262626"><text x="0" y="0" font-size="75">9</text></g>
<g transform="translate(845.89,3694.9)" fill="#262626"><text x="0" y="0" font-size="75"> 2</text><path d="M0.3578 0L0.2668 0L0.2668 -0.492L0.1001 -0.492L0.1001 -0.549C0.19 -0.552 0.27 -0.57 0.2917 -0.684L0.3578 -0.684Z" transform="translate(0,0) scale(75)"/></g>
<g transform="translate(1000.82,3694.9)" fill="#262626"><text x="0" y="0" font-size="75"> 5</text><path d="M0.3578 0L0.2668 0L0.2668 -0.492L0.1001 -0.492L0.1001 -0.549C0.19 -0.552 0.27 -0.57 0.2917 -0.684L0.3578 -0.684Z" transform="translate(0,0) scale(75)"/></g>
<path d="M1373.17 2093.3V3596.3M1528.42 2093.3V3596.3M1683.66 2093.3V3596.3M1838.91 2093.3V3596.3M1994.15 2093.3V3596.3M2149.4 2093.3V3596.3M1368 2093.3H2149.4M1368 2343.8H2149.4M1368 2594.3H2149.4M1368 2844.8H2149.4M1368 3095.3H2149.4M1368 3345.8H2149.4M1368 3596.3H2149.4" stroke="#DEDEDE" stroke-width="2.4" fill="none"/>
<path d="M1368 2093.3H2149.4V3596.3H1368ZM1373.17 3596.3V3581.3M1373.17 2093.3V2108.3M1528.42 3596.3V3581.3M1528.42 2093.3V2108.3M1683.66 3596.3V3581.3M1683.66 2093.3V2108.3M1838.91 3596.3V3581.3M1838.91 2093.3V2108.3M1994.15 3596.3V3581.3M1994.15 2093.3V2108.3M2149.4 3596.3V3581.3M2149.4 2093.3V2108.3M1368 2093.3H1383M2149.4 2093.3H2134.4M1368 2343.8H1383M2149.4 2343.8H2134.4M1368 2594.3H1383M2149.4 2594.3H2134.4M1368 2844.8H1383M2149.4 2844.8H2134.4M1368 3095.3H1383M2149.4 3095.3H2134.4M1368 3345.8H1383M2149.4 3345.8H2134.4M1368 3596.3H1383M2149.4 3596.3H2134.4" stroke="#000" stroke-width="2.5" fill="none" stroke-linecap="square"/>
<path d="M1373.17 3345.8L1424.92 3088.54L1476.67 3003.24L1528.42 2826.26L1580.17 2675.96L1631.92 2551.72L1683.66 2451.14L1735.41 2371.98L1787.16 2311.74L1838.91 2269.53L1890.66 2239.97L1942.41 2224.44L1994.15 2218.17L2045.9 2216.55L2097.65 2217.42L2149.4 2217.42" stroke="#1174BC" stroke-width="9.5" fill="none" stroke-linejoin="round"/>
<path d="M1359.32 3331.95H1387.02V3359.65H1359.32ZM1368.47 3341.1H1377.87V3350.5H1368.47ZM1411.07 3074.69H1438.77V3102.39H1411.07ZM1420.22 3083.84H1429.62V3093.24H1420.22ZM1462.82 2989.39H1490.52V3017.09H1462.82ZM1471.97 2998.54H1481.37V3007.94H1471.97ZM1514.57 2812.41H1542.27V2840.11H1514.57ZM1523.72 2821.56H1533.12V2830.96H1523.72ZM1566.32 2662.11H1594.02V2689.81H1566.32ZM1575.47 2671.26H1584.87V2680.66H1575.47ZM1618.07 2537.87H1645.77V2565.57H1618.07ZM1627.22 2547.02H1636.62V2556.41H1627.22ZM1669.81 2437.29H1697.51V2464.99H1669.81ZM1678.96 2446.44H1688.36V2455.84H1678.96ZM1721.56 2358.13H1749.26V2385.83H1721.56ZM1730.71 2367.28H1740.11V2376.68H1730.71ZM1773.31 2297.89H1801.01V2325.59H1773.31ZM1782.46 2307.04H1791.86V2316.44H1782.46ZM1825.06 2255.68H1852.76V2283.38H1825.06ZM1834.21 2264.83H1843.61V2274.23H1834.21ZM1876.81 2226.12H1904.51V2253.82H1876.81ZM1885.96 2235.27H1895.36V2244.67H1885.96ZM1928.56 2210.59H1956.26V2238.29H1928.56ZM1937.71 2219.74H1947.11V2229.14H1937.71ZM1980.3 2204.32H2008V2232.02H1980.3ZM1989.45 2213.47H1998.85V2222.87H1989.45ZM2032.05 2202.7H2059.75V2230.4H2032.05ZM2041.2 2211.85H2050.6V2221.25H2041.2ZM2083.8 2203.57H2111.5V2231.27H2083.8ZM2092.95 2212.72H2102.35V2222.12H2092.95ZM2135.55 2203.57H2163.25V2231.27H2135.55ZM2144.7 2212.72H2154.1V2222.12H2144.7Z" fill="#1174BC" fill-rule="evenodd"/>
<path d="M1373.17 3345.8L1424.92 3099.43L1476.67 3019.77L1528.42 2856.82L1580.17 2723.93L1631.92 2614.47L1683.66 2530.05L1735.41 2463.54L1787.16 2417.57L1838.91 2386.76L1890.66 2369.98L1942.41 2365.84L1994.15 2369.23L2045.9 2371.98L2097.65 2378.24L2149.4 2378.24" stroke="#EDB120" stroke-width="9.5" fill="none" stroke-linejoin="round"/>
<path d="M1359.32 3331.95H1387.02V3359.65H1359.32ZM1368.47 3341.1H1377.87V3350.5H1368.47ZM1411.07 3085.58H1438.77V3113.28H1411.07ZM1420.22 3094.73H1429.62V3104.13H1420.22ZM1462.82 3005.92H1490.52V3033.62H1462.82ZM1471.97 3015.07H1481.37V3024.47H1471.97ZM1514.57 2842.97H1542.27V2870.67H1514.57ZM1523.72 2852.12H1533.12V2861.52H1523.72ZM1566.32 2710.08H1594.02V2737.78H1566.32ZM1575.47 2719.23H1584.87V2728.63H1575.47ZM1618.07 2600.62H1645.77V2628.32H1618.07ZM1627.22 2609.77H1636.62V2619.17H1627.22ZM1669.81 2516.2H1697.51V2543.9H1669.81ZM1678.96 2525.35H1688.36V2534.75H1678.96ZM1721.56 2449.69H1749.26V2477.39H1721.56ZM1730.71 2458.84H1740.11V2468.24H1730.71ZM1773.31 2403.72H1801.01V2431.42H1773.31ZM1782.46 2412.87H1791.86V2422.27H1782.46ZM1825.06 2372.91H1852.76V2400.61H1825.06ZM1834.21 2382.06H1843.61V2391.46H1834.21ZM1876.81 2356.13H1904.51V2383.83H1876.81ZM1885.96 2365.28H1895.36V2374.68H1885.96ZM1928.56 2351.99H1956.26V2379.69H1928.56ZM1937.71 2361.14H1947.11V2370.54H1937.71ZM1980.3 2355.38H2008V2383.08H1980.3ZM1989.45 2364.53H1998.85V2373.93H1989.45ZM2032.05 2358.13H2059.75V2385.83H2032.05ZM2041.2 2367.28H2050.6V2376.68H2041.2ZM2083.8 2364.39H2111.5V2392.09H2083.8ZM2092.95 2373.54H2102.35V2382.94H2092.95ZM2135.55 2364.39H2163.25V2392.09H2135.55ZM2144.7 2373.54H2154.1V2382.94H2144.7Z" fill="#EDB120" fill-rule="evenodd"/>
<path d="M1373.17 3345.8L1424.92 3170.58L1476.67 3096.3L1528.42 2948.63L1580.17 2821.63L1631.92 2717.8L1683.66 2635.76L1735.41 2571L1787.16 2525.91L1838.91 2495.1L1890.66 2480.7L1942.41 2480.7L1994.15 2493.47L2045.9 2501.24L2097.65 2511.89L2149.4 2511.89" stroke="#7E2F8E" stroke-width="9.5" fill="none" stroke-linejoin="round"/>
<path d="M1359.32 3331.95H1387.02V3359.65H1359.32ZM1368.47 3341.1H1377.87V3350.5H1368.47ZM1411.07 3156.73H1438.77V3184.43H1411.07ZM1420.22 3165.88H1429.62V3175.28H1420.22ZM1462.82 3082.45H1490.52V3110.15H1462.82ZM1471.97 3091.6H1481.37V3101H1471.97ZM1514.57 2934.78H1542.27V2962.48H1514.57ZM1523.72 2943.93H1533.12V2953.33H1523.72ZM1566.32 2807.78H1594.02V2835.48H1566.32ZM1575.47 2816.93H1584.87V2826.33H1575.47ZM1618.07 2703.95H1645.77V2731.65H1618.07ZM1627.22 2713.1H1636.62V2722.5H1627.22ZM1669.81 2621.91H1697.51V2649.61H1669.81ZM1678.96 2631.06H1688.36V2640.46H1678.96ZM1721.56 2557.15H1749.26V2584.85H1721.56ZM1730.71 2566.3H1740.11V2575.7H1730.71ZM1773.31 2512.06H1801.01V2539.76H1773.31ZM1782.46 2521.21H1791.86V2530.61H1782.46ZM1825.06 2481.25H1852.76V2508.95H1825.06ZM1834.21 2490.4H1843.61V2499.8H1834.21ZM1876.81 2466.85H1904.51V2494.55H1876.81ZM1885.96 2476H1895.36V2485.4H1885.96ZM1928.56 2466.85H1956.26V2494.55H1928.56ZM1937.71 2476H1947.11V2485.4H1937.71ZM1980.3 2479.62H2008V2507.32H1980.3ZM1989.45 2488.77H1998.85V2498.17H1989.45ZM2032.05 2487.39H2059.75V2515.09H2032.05ZM2041.2 2496.54H2050.6V2505.94H2041.2ZM2083.8 2498.04H2111.5V2525.74H2083.8ZM2092.95 2507.19H2102.35V2516.59H2092.95ZM2135.55 2498.04H2163.25V2525.74H2135.55ZM2144.7 2507.19H2154.1V2516.59H2144.7Z" fill="#7E2F8E" fill-rule="evenodd"/>
<path d="M1373.17 3345.8L1424.92 3305.72L1476.67 3285.05L1528.42 3243.6L1580.17 3205.65L1631.92 3172.83L1683.66 3147.53L1735.41 3129.12L1787.16 3123.36L1838.91 3127.74L1890.66 3150.54L1942.41 3188.11L1994.15 3245.85L2045.9 3322.25L2097.65 3424.08L2149.4 3476.56" stroke="#1174BC" stroke-width="9.5" fill="none" stroke-linejoin="round" stroke-dasharray="36 38"/>
<path d="M1373.17 3322.4L1390.77 3345.8L1373.17 3369.2L1355.57 3345.8ZM1373.17 3338.5L1378.77 3345.8L1373.17 3353.1L1367.57 3345.8ZM1424.92 3282.32L1442.52 3305.72L1424.92 3329.12L1407.32 3305.72ZM1424.92 3298.42L1430.52 3305.72L1424.92 3313.02L1419.32 3305.72ZM1476.67 3261.65L1494.27 3285.05L1476.67 3308.45L1459.07 3285.05ZM1476.67 3277.75L1482.27 3285.05L1476.67 3292.35L1471.07 3285.05ZM1528.42 3220.2L1546.02 3243.6L1528.42 3267L1510.82 3243.6ZM1528.42 3236.3L1534.02 3243.6L1528.42 3250.9L1522.82 3243.6ZM1580.17 3182.25L1597.77 3205.65L1580.17 3229.05L1562.57 3205.65ZM1580.17 3198.35L1585.77 3205.65L1580.17 3212.95L1574.57 3205.65ZM1631.92 3149.43L1649.52 3172.83L1631.92 3196.23L1614.32 3172.83ZM1631.92 3165.53L1637.52 3172.83L1631.92 3180.13L1626.32 3172.83ZM1683.66 3124.13L1701.26 3147.53L1683.66 3170.93L1666.06 3147.53ZM1683.66 3140.23L1689.26 3147.53L1683.66 3154.83L1678.06 3147.53ZM1735.41 3105.72L1753.01 3129.12L1735.41 3152.52L1717.81 3129.12ZM1735.41 3121.82L1741.01 3129.12L1735.41 3136.42L1729.81 3129.12ZM1787.16 3099.96L1804.76 3123.36L1787.16 3146.76L1769.56 3123.36ZM1787.16 3116.06L1792.76 3123.36L1787.16 3130.66L1781.56 3123.36ZM1838.91 3104.34L1856.51 3127.74L1838.91 3151.14L1821.31 3127.74ZM1838.91 3120.44L1844.51 3127.74L1838.91 3135.04L1833.31 3127.74ZM1890.66 3127.14L1908.26 3150.54L1890.66 3173.94L1873.06 3150.54ZM1890.66 3143.24L1896.26 3150.54L1890.66 3157.84L1885.06 3150.54ZM1942.41 3164.71L1960.01 3188.11L1942.41 3211.51L1924.81 3188.11ZM1942.41 3180.81L1948.01 3188.11L1942.41 3195.41L1936.81 3188.11ZM1994.15 3222.45L2011.75 3245.85L1994.15 3269.25L1976.55 3245.85ZM1994.15 3238.55L1999.75 3245.85L1994.15 3253.15L1988.55 3245.85ZM2045.9 3298.85L2063.5 3322.25L2045.9 3345.65L2028.3 3322.25ZM2045.9 3314.95L2051.5 3322.25L2045.9 3329.55L2040.3 3322.25ZM2097.65 3400.68L2115.25 3424.08L2097.65 3447.48L2080.05 3424.08ZM2097.65 3416.78L2103.25 3424.08L2097.65 3431.38L2092.05 3424.08ZM2149.4 3453.16L2167 3476.56L2149.4 3499.96L2131.8 3476.56ZM2149.4 3469.26L2155 3476.56L2149.4 3483.86L2143.8 3476.56Z" fill="#1174BC" fill-rule="evenodd"/>
<path d="M1373.17 3345.8L1424.92 3381.25L1476.67 3348.56L1528.42 3280.8L1580.17 3217.42L1631.92 3162.81L1683.66 3116.84L1735.41 3081.9L1787.16 3058.73L1838.91 3050.46L1890.66 3061.36L1942.41 3089.29L1994.15 3138.64L2045.9 3210.78L2097.65 3246.73L2149.4 3290.44" stroke="#EDB120" stroke-width="9.5" fill="none" stroke-linejoin="round" stroke-dasharray="36 38"/>
<path d="M1373.17 3322.4L1390.77 3345.8L1373.17 3369.2L1355.57 3345.8ZM1373.17 3338.5L1378.77 3345.8L1373.17 3353.1L1367.57 3345.8ZM1424.92 3357.85L1442.52 3381.25L1424.92 3404.65L1407.32 3381.25ZM1424.92 3373.95L1430.52 3381.25L1424.92 3388.55L1419.32 3381.25ZM1476.67 3325.16L1494.27 3348.56L1476.67 3371.96L1459.07 3348.56ZM1476.67 3341.26L1482.27 3348.56L1476.67 3355.86L1471.07 3348.56ZM1528.42 3257.4L1546.02 3280.8L1528.42 3304.2L1510.82 3280.8ZM1528.42 3273.5L1534.02 3280.8L1528.42 3288.1L1522.82 3280.8ZM1580.17 3194.02L1597.77 3217.42L1580.17 3240.82L1562.57 3217.42ZM1580.17 3210.12L1585.77 3217.42L1580.17 3224.72L1574.57 3217.42ZM1631.92 3139.41L1649.52 3162.81L1631.92 3186.21L1614.32 3162.81ZM1631.92 3155.51L1637.52 3162.81L1631.92 3170.11L1626.32 3162.81ZM1683.66 3093.44L1701.26 3116.84L1683.66 3140.24L1666.06 3116.84ZM1683.66 3109.54L1689.26 3116.84L1683.66 3124.14L1678.06 3116.84ZM1735.41 3058.5L1753.01 3081.9L1735.41 3105.3L1717.81 3081.9ZM1735.41 3074.6L1741.01 3081.9L1735.41 3089.2L1729.81 3081.9ZM1787.16 3035.33L1804.76 3058.73L1787.16 3082.13L1769.56 3058.73ZM1787.16 3051.43L1792.76 3058.73L1787.16 3066.03L1781.56 3058.73ZM1838.91 3027.06L1856.51 3050.46L1838.91 3073.86L1821.31 3050.46ZM1838.91 3043.16L1844.51 3050.46L1838.91 3057.76L1833.31 3050.46ZM1890.66 3037.96L1908.26 3061.36L1890.66 3084.76L1873.06 3061.36ZM1890.66 3054.06L1896.26 3061.36L1890.66 3068.66L1885.06 3061.36ZM1942.41 3065.89L1960.01 3089.29L1942.41 3112.69L1924.81 3089.29ZM1942.41 3081.99L1948.01 3089.29L1942.41 3096.59L1936.81 3089.29ZM1994.15 3115.24L2011.75 3138.64L1994.15 3162.04L1976.55 3138.64ZM1994.15 3131.34L1999.75 3138.64L1994.15 3145.94L1988.55 3138.64ZM2045.9 3187.38L2063.5 3210.78L2045.9 3234.18L2028.3 3210.78ZM2045.9 3203.48L2051.5 3210.78L2045.9 3218.08L2040.3 3210.78ZM2097.65 3223.33L2115.25 3246.73L2097.65 3270.13L2080.05 3246.73ZM2097.65 3239.43L2103.25 3246.73L2097.65 3254.03L2092.05 3246.73ZM2149.4 3267.04L2167 3290.44L2149.4 3313.84L2131.8 3290.44ZM2149.4 3283.14L2155 3290.44L2149.4 3297.74L2143.8 3290.44Z" fill="#EDB120" fill-rule="evenodd"/>
<path d="M1373.17 3345.8L1424.92 3237.08L1476.67 3174.96L1528.42 3053.47L1580.17 2958.15L1631.92 2880.87L1683.66 2827.14L1735.41 2789.56L1787.16 2772.41L1838.91 2771.15L1890.66 2781.42L1942.41 2806.85L1994.15 2845.05L2045.9 2891.77L2097.65 2947.25L2149.4 2976.06" stroke="#7E2F8E" stroke-width="9.5" fill="none" stroke-linejoin="round" stroke-dasharray="36 38"/>
<path d="M1373.17 3322.4L1390.77 3345.8L1373.17 3369.2L1355.57 3345.8ZM1373.17 3338.5L1378.77 3345.8L1373.17 3353.1L1367.57 3345.8ZM1424.92 3213.68L1442.52 3237.08L1424.92 3260.48L1407.32 3237.08ZM1424.92 3229.78L1430.52 3237.08L1424.92 3244.38L1419.32 3237.08ZM1476.67 3151.56L1494.27 3174.96L1476.67 3198.36L1459.07 3174.96ZM1476.67 3167.66L1482.27 3174.96L1476.67 3182.26L1471.07 3174.96ZM1528.42 3030.07L1546.02 3053.47L1528.42 3076.87L1510.82 3053.47ZM1528.42 3046.17L1534.02 3053.47L1528.42 3060.77L1522.82 3053.47ZM1580.17 2934.75L1597.77 2958.15L1580.17 2981.55L1562.57 2958.15ZM1580.17 2950.85L1585.77 2958.15L1580.17 2965.45L1574.57 2958.15ZM1631.92 2857.47L1649.52 2880.87L1631.92 2904.27L1614.32 2880.87ZM1631.92 2873.57L1637.52 2880.87L1631.92 2888.17L1626.32 2880.87ZM1683.66 2803.74L1701.26 2827.14L1683.66 2850.54L1666.06 2827.14ZM1683.66 2819.84L1689.26 2827.14L1683.66 2834.44L1678.06 2827.14ZM1735.41 2766.16L1753.01 2789.56L1735.41 2812.96L1717.81 2789.56ZM1735.41 2782.26L1741.01 2789.56L1735.41 2796.86L1729.81 2789.56ZM1787.16 2749.01L1804.76 2772.41L1787.16 2795.81L1769.56 2772.41ZM1787.16 2765.11L1792.76 2772.41L1787.16 2779.71L1781.56 2772.41ZM1838.91 2747.75L1856.51 2771.15L1838.91 2794.55L1821.31 2771.15ZM1838.91 2763.85L1844.51 2771.15L1838.91 2778.45L1833.31 2771.15ZM1890.66 2758.02L1908.26 2781.42L1890.66 2804.82L1873.06 2781.42ZM1890.66 2774.12L1896.26 2781.42L1890.66 2788.72L1885.06 2781.42ZM1942.41 2783.45L1960.01 2806.85L1942.41 2830.25L1924.81 2806.85ZM1942.41 2799.55L1948.01 2806.85L1942.41 2814.15L1936.81 2806.85ZM1994.15 2821.65L2011.75 2845.05L1994.15 2868.45L1976.55 2845.05ZM1994.15 2837.75L1999.75 2845.05L1994.15 2852.35L1988.55 2845.05ZM2045.9 2868.37L2063.5 2891.77L2045.9 2915.17L2028.3 2891.77ZM2045.9 2884.47L2051.5 2891.77L2045.9 2899.07L2040.3 2891.77ZM2097.65 2923.85L2115.25 2947.25L2097.65 2970.65L2080.05 2947.25ZM2097.65 2939.95L2103.25 2947.25L2097.65 2954.55L2092.05 2947.25ZM2149.4 2952.66L2167 2976.06L2149.4 2999.46L2131.8 2976.06ZM2149.4 2968.76L2155 2976.06L2149.4 2983.36L2143.8 2976.06Z" fill="#7E2F8E" fill-rule="evenodd"/>
<g transform="translate(1301.46,2121.5)" fill="#262626"><path d="M0.3578 0L0.2668 0L0.2668 -0.492L0.1001 -0.492L0.1001 -0.549C0.19 -0.552 0.27 -0.57 0.2917 -0.684L0.3578 -0.684Z" transform="translate(0,0) scale(75)"/></g>
<g transform="translate(1236.68,2372)" fill="#262626"><text x="0" y="0" font-size="75">0.8</text></g>
<g transform="translate(1236.75,2622.5)" fill="#262626"><text x="0" y="0" font-size="75">0.6</text></g>
<g transform="translate(1235.63,2873)" fill="#262626"><text x="0" y="0" font-size="75">0.4</text></g>
<g transform="translate(1237.2,3123.5)" fill="#262626"><text x="0" y="0" font-size="75">0.2</text></g>
<g transform="translate(1301.62,3374)" fill="#262626"><text x="0" y="0" font-size="75">0</text></g>
<g transform="translate(1212.23,3624.5)" fill="#262626"><text x="0" y="0" font-size="75">-0.2</text></g>
<g transform="translate(1340.02,3694.9)" fill="#262626"><text x="0" y="0" font-size="75">0</text></g>
<g transform="translate(1495.49,3694.9)" fill="#262626"><text x="0" y="0" font-size="75">3</text></g>
<g transform="translate(1650.25,3694.9)" fill="#262626"><text x="0" y="0" font-size="75">6</text></g>
<g transform="translate(1805.76,3694.9)" fill="#262626"><text x="0" y="0" font-size="75">9</text></g>
<g transform="translate(1951.97,3694.9)" fill="#262626"><text x="0" y="0" font-size="75"> 2</text><path d="M0.3578 0L0.2668 0L0.2668 -0.492L0.1001 -0.492L0.1001 -0.549C0.19 -0.552 0.27 -0.57 0.2917 -0.684L0.3578 -0.684Z" transform="translate(0,0) scale(75)"/></g>
<g transform="translate(2106.92,3694.9)" fill="#262626"><text x="0" y="0" font-size="75"> 5</text><path d="M0.3578 0L0.2668 0L0.2668 -0.492L0.1001 -0.492L0.1001 -0.549C0.19 -0.552 0.27 -0.57 0.2917 -0.684L0.3578 -0.684Z" transform="translate(0,0) scale(75)"/></g>
<path d="M2481.48 2093.3V3596.3M2636.78 2093.3V3596.3M2792.09 2093.3V3596.3M2947.39 2093.3V3596.3M3102.7 2093.3V3596.3M3258 2093.3V3596.3M2476.3 2093.3H3258M2476.3 2281.18H3258M2476.3 2469.05H3258M2476.3 2656.93H3258M2476.3 2844.8H3258M2476.3 3032.68H3258M2476.3 3220.55H3258M2476.3 3408.43H3258M2476.3 3596.3H3258" stroke="#DEDEDE" stroke-width="2.4" fill="none"/>
<path d="M2476.3 2093.3H3258V3596.3H2476.3ZM2481.48 3596.3V3581.3M2481.48 2093.3V2108.3M2636.78 3596.3V3581.3M2636.78 2093.3V2108.3M2792.09 3596.3V3581.3M2792.09 2093.3V2108.3M2947.39 3596.3V3581.3M2947.39 2093.3V2108.3M3102.7 3596.3V3581.3M3102.7 2093.3V2108.3M3258 3596.3V3581.3M3258 2093.3V2108.3M2476.3 2093.3H2491.3M3258 2093.3H3243M2476.3 2281.18H2491.3M3258 2281.18H3243M2476.3 2469.05H2491.3M3258 2469.05H3243M2476.3 2656.93H2491.3M3258 2656.93H3243M2476.3 2844.8H2491.3M3258 2844.8H3243M2476.3 3032.68H2491.3M3258 3032.68H3243M2476.3 3220.55H2491.3M3258 3220.55H3243M2476.3 3408.43H2491.3M3258 3408.43H3243M2476.3 3596.3H2491.3M3258 3596.3H3243" stroke="#000" stroke-width="2.5" fill="none" stroke-linecap="square"/>
<path d="M2481.48 3596.3L2533.25 3295.7L2585.01 3208.53L2636.78 3122.48L2688.55 2947.76L2740.32 2795.58L2792.09 2670.45L2843.85 2565.24L2895.62 2488.96L2947.39 2435.98L2999.16 2407.05L3050.93 2402.17L3102.7 2396.53L3154.46 2399.16L3206.23 2409.31L3258 2409.31" stroke="#1174BC" stroke-width="9.5" fill="none" stroke-linejoin="round"/>
<path d="M2467.63 3582.45H2495.33V3610.15H2467.63ZM2476.78 3591.6H2486.18V3601H2476.78ZM2519.4 3281.85H2547.1V3309.55H2519.4ZM2528.55 3291H2537.95V3300.4H2528.55ZM2571.16 3194.68H2598.86V3222.38H2571.16ZM2580.31 3203.83H2589.71V3213.23H2580.31ZM2622.93 3108.63H2650.63V3136.33H2622.93ZM2632.08 3117.78H2641.48V3127.18H2632.08ZM2674.7 2933.91H2702.4V2961.61H2674.7ZM2683.85 2943.06H2693.25V2952.46H2683.85ZM2726.47 2781.73H2754.17V2809.43H2726.47ZM2735.62 2790.88H2745.02V2800.28H2735.62ZM2778.24 2656.6H2805.94V2684.3H2778.24ZM2787.39 2665.75H2796.79V2675.15H2787.39ZM2830 2551.39H2857.7V2579.09H2830ZM2839.15 2560.54H2848.55V2569.94H2839.15ZM2881.77 2475.11H2909.47V2502.81H2881.77ZM2890.92 2484.26H2900.32V2493.66H2890.92ZM2933.54 2422.13H2961.24V2449.83H2933.54ZM2942.69 2431.28H2952.09V2440.68H2942.69ZM2985.31 2393.2H3013.01V2420.9H2985.31ZM2994.46 2402.35H3003.86V2411.75H2994.46ZM3037.08 2388.32H3064.78V2416.02H3037.08ZM3046.23 2397.47H3055.63V2406.87H3046.23ZM3088.85 2382.68H3116.55V2410.38H3088.85ZM3098 2391.83H3107.4V2401.23H3098ZM3140.61 2385.31H3168.31V2413.01H3140.61ZM3149.76 2394.46H3159.16V2403.86H3149.76ZM3192.38 2395.46H3220.08V2423.16H3192.38ZM3201.53 2404.61H3210.93V2414.01H3201.53ZM3244.15 2395.46H3271.85V2423.16H3244.15ZM3253.3 2404.61H3262.7V2414.01H3253.3Z" fill="#1174BC" fill-rule="evenodd"/>
<path d="M2481.48 3596.3L2533.25 3303.22L2585.01 3217.54L2636.78 3045.45L2688.55 2899.66L2740.32 2776.04L2792.09 2676.09L2843.85 2597.56L2895.62 2541.57L2947.39 2503.62L2999.16 2484.08L3050.93 2483.33L3102.7 2498.36L3154.46 2505.12L3206.23 2519.02L3258 2519.02" stroke="#EDB120" stroke-width="9.5" fill="none" stroke-linejoin="round"/>
<path d="M2467.63 3582.45H2495.33V3610.15H2467.63ZM2476.78 3591.6H2486.18V3601H2476.78ZM2519.4 3289.37H2547.1V3317.07H2519.4ZM2528.55 3298.52H2537.95V3307.91H2528.55ZM2571.16 3203.69H2598.86V3231.39H2571.16ZM2580.31 3212.84H2589.71V3222.24H2580.31ZM2622.93 3031.6H2650.63V3059.3H2622.93ZM2632.08 3040.75H2641.48V3050.15H2632.08ZM2674.7 2885.81H2702.4V2913.51H2674.7ZM2683.85 2894.96H2693.25V2904.36H2683.85ZM2726.47 2762.19H2754.17V2789.89H2726.47ZM2735.62 2771.34H2745.02V2780.74H2735.62ZM2778.24 2662.24H2805.94V2689.94H2778.24ZM2787.39 2671.39H2796.79V2680.79H2787.39ZM2830 2583.71H2857.7V2611.41H2830ZM2839.15 2592.86H2848.55V2602.26H2839.15ZM2881.77 2527.72H2909.47V2555.42H2881.77ZM2890.92 2536.87H2900.32V2546.27H2890.92ZM2933.54 2489.77H2961.24V2517.47H2933.54ZM2942.69 2498.92H2952.09V2508.32H2942.69ZM2985.31 2470.23H3013.01V2497.93H2985.31ZM2994.46 2479.38H3003.86V2488.78H2994.46ZM3037.08 2469.48H3064.78V2497.18H3037.08ZM3046.23 2478.63H3055.63V2488.03H3046.23ZM3088.85 2484.51H3116.55V2512.21H3088.85ZM3098 2493.66H3107.4V2503.06H3098ZM3140.61 2491.27H3168.31V2518.97H3140.61ZM3149.76 2500.42H3159.16V2509.82H3149.76ZM3192.38 2505.17H3220.08V2532.87H3192.38ZM3201.53 2514.32H3210.93V2523.72H3201.53ZM3244.15 2505.17H3271.85V2532.87H3244.15ZM3253.3 2514.32H3262.7V2523.72H3253.3Z" fill="#EDB120" fill-rule="evenodd"/>
<path d="M2481.48 3596.3L2533.25 3155.17L2585.01 3042.44L2636.78 2816.62L2688.55 2623.48L2740.32 2465.67L2792.09 2338.29L2843.85 2242.1L2895.62 2173.33L2947.39 2128.24L2999.16 2108.71L3050.93 2108.71L3102.7 2127.12L3154.46 2136.14L3206.23 2153.04L3258 2153.8" stroke="#7E2F8E" stroke-width="9.5" fill="none" stroke-linejoin="round"/>
<path d="M2467.63 3582.45H2495.33V3610.15H2467.63ZM2476.78 3591.6H2486.18V3601H2476.78ZM2519.4 3141.32H2547.1V3169.02H2519.4ZM2528.55 3150.47H2537.95V3159.87H2528.55ZM2571.16 3028.59H2598.86V3056.29H2571.16ZM2580.31 3037.74H2589.71V3047.14H2580.31ZM2622.93 2802.77H2650.63V2830.47H2622.93ZM2632.08 2811.92H2641.48V2821.32H2632.08ZM2674.7 2609.63H2702.4V2637.33H2674.7ZM2683.85 2618.78H2693.25V2628.18H2683.85ZM2726.47 2451.82H2754.17V2479.52H2726.47ZM2735.62 2460.97H2745.02V2470.37H2735.62ZM2778.24 2324.44H2805.94V2352.14H2778.24ZM2787.39 2333.59H2796.79V2342.99H2787.39ZM2830 2228.25H2857.7V2255.95H2830ZM2839.15 2237.4H2848.55V2246.8H2839.15ZM2881.77 2159.48H2909.47V2187.18H2881.77ZM2890.92 2168.63H2900.32V2178.03H2890.92ZM2933.54 2114.39H2961.24V2142.09H2933.54ZM2942.69 2123.54H2952.09V2132.94H2942.69ZM2985.31 2094.86H3013.01V2122.56H2985.31ZM2994.46 2104.01H3003.86V2113.41H2994.46ZM3037.08 2094.86H3064.78V2122.56H3037.08ZM3046.23 2104.01H3055.63V2113.41H3046.23ZM3088.85 2113.27H3116.55V2140.97H3088.85ZM3098 2122.42H3107.4V2131.82H3098ZM3140.61 2122.29H3168.31V2149.99H3140.61ZM3149.76 2131.44H3159.16V2140.84H3149.76ZM3192.38 2139.19H3220.08V2166.89H3192.38ZM3201.53 2148.34H3210.93V2157.74H3201.53ZM3244.15 2139.95H3271.85V2167.65H3244.15ZM3253.3 2149.1H3262.7V2158.5H3253.3Z" fill="#7E2F8E" fill-rule="evenodd"/>
<path d="M2481.48 3596.3L2533.25 3490.71L2585.01 3442.62L2636.78 3349.81L2688.55 3258.88L2740.32 3175.84L2792.09 3105.95L2843.85 3049.21L2895.62 3014.26L2947.39 3000.36L2999.16 3014.26L3050.93 3060.1L3102.7 3138.64L3154.46 3259.63L3206.23 3319.37L3258 3393.4" stroke="#1174BC" stroke-width="9.5" fill="none" stroke-linejoin="round" stroke-dasharray="36 38"/>
<path d="M2481.48 3572.9L2499.08 3596.3L2481.48 3619.7L2463.88 3596.3ZM2481.48 3589L2487.08 3596.3L2481.48 3603.6L2475.88 3596.3ZM2533.25 3467.31L2550.85 3490.71L2533.25 3514.11L2515.65 3490.71ZM2533.25 3483.41L2538.85 3490.71L2533.25 3498.01L2527.65 3490.71ZM2585.01 3419.22L2602.61 3442.62L2585.01 3466.02L2567.41 3442.62ZM2585.01 3435.32L2590.61 3442.62L2585.01 3449.92L2579.41 3442.62ZM2636.78 3326.41L2654.38 3349.81L2636.78 3373.21L2619.18 3349.81ZM2636.78 3342.51L2642.38 3349.81L2636.78 3357.11L2631.18 3349.81ZM2688.55 3235.48L2706.15 3258.88L2688.55 3282.28L2670.95 3258.88ZM2688.55 3251.58L2694.15 3258.88L2688.55 3266.18L2682.95 3258.88ZM2740.32 3152.44L2757.92 3175.84L2740.32 3199.24L2722.72 3175.84ZM2740.32 3168.54L2745.92 3175.84L2740.32 3183.14L2734.72 3175.84ZM2792.09 3082.55L2809.69 3105.95L2792.09 3129.35L2774.49 3105.95ZM2792.09 3098.65L2797.69 3105.95L2792.09 3113.25L2786.49 3105.95ZM2843.85 3025.81L2861.45 3049.21L2843.85 3072.61L2826.25 3049.21ZM2843.85 3041.91L2849.45 3049.21L2843.85 3056.51L2838.25 3049.21ZM2895.62 2990.86L2913.22 3014.26L2895.62 3037.66L2878.02 3014.26ZM2895.62 3006.96L2901.22 3014.26L2895.62 3021.56L2890.02 3014.26ZM2947.39 2976.96L2964.99 3000.36L2947.39 3023.76L2929.79 3000.36ZM2947.39 2993.06L2952.99 3000.36L2947.39 3007.66L2941.79 3000.36ZM2999.16 2990.86L3016.76 3014.26L2999.16 3037.66L2981.56 3014.26ZM2999.16 3006.96L3004.76 3014.26L2999.16 3021.56L2993.56 3014.26ZM3050.93 3036.7L3068.53 3060.1L3050.93 3083.5L3033.33 3060.1ZM3050.93 3052.8L3056.53 3060.1L3050.93 3067.4L3045.33 3060.1ZM3102.7 3115.24L3120.3 3138.64L3102.7 3162.04L3085.1 3138.64ZM3102.7 3131.34L3108.3 3138.64L3102.7 3145.94L3097.1 3138.64ZM3154.46 3236.23L3172.06 3259.63L3154.46 3283.03L3136.86 3259.63ZM3154.46 3252.33L3160.06 3259.63L3154.46 3266.93L3148.86 3259.63ZM3206.23 3295.97L3223.83 3319.37L3206.23 3342.77L3188.63 3319.37ZM3206.23 3312.07L3211.83 3319.37L3206.23 3326.67L3200.63 3319.37ZM3258 3370L3275.6 3393.4L3258 3416.8L3240.4 3393.4ZM3258 3386.1L3263.6 3393.4L3258 3400.7L3252.4 3393.4Z" fill="#1174BC" fill-rule="evenodd"/>
<path d="M2481.48 3596.3L2533.25 3468.55L2585.01 3408.8L2636.78 3291.57L2688.55 3180.34L2740.32 3083.03L2792.09 3001.11L2843.85 2939.11L2895.62 2896.28L2947.39 2882.38L2999.16 2895.15L3050.93 2940.62L3102.7 3020.65L3154.46 3138.64L3206.23 3198.76L3258 3272.03" stroke="#EDB120" stroke-width="9.5" fill="none" stroke-linejoin="round" stroke-dasharray="36 38"/>
<path d="M2481.48 3572.9L2499.08 3596.3L2481.48 3619.7L2463.88 3596.3ZM2481.48 3589L2487.08 3596.3L2481.48 3603.6L2475.88 3596.3ZM2533.25 3445.14L2550.85 3468.55L2533.25 3491.95L2515.65 3468.55ZM2533.25 3461.24L2538.85 3468.55L2533.25 3475.85L2527.65 3468.55ZM2585.01 3385.4L2602.61 3408.8L2585.01 3432.2L2567.41 3408.8ZM2585.01 3401.5L2590.61 3408.8L2585.01 3416.1L2579.41 3408.8ZM2636.78 3268.17L2654.38 3291.57L2636.78 3314.97L2619.18 3291.57ZM2636.78 3284.27L2642.38 3291.57L2636.78 3298.87L2631.18 3291.57ZM2688.55 3156.94L2706.15 3180.34L2688.55 3203.74L2670.95 3180.34ZM2688.55 3173.04L2694.15 3180.34L2688.55 3187.64L2682.95 3180.34ZM2740.32 3059.63L2757.92 3083.03L2740.32 3106.43L2722.72 3083.03ZM2740.32 3075.73L2745.92 3083.03L2740.32 3090.33L2734.72 3083.03ZM2792.09 2977.71L2809.69 3001.11L2792.09 3024.51L2774.49 3001.11ZM2792.09 2993.81L2797.69 3001.11L2792.09 3008.41L2786.49 3001.11ZM2843.85 2915.71L2861.45 2939.11L2843.85 2962.51L2826.25 2939.11ZM2843.85 2931.81L2849.45 2939.11L2843.85 2946.41L2838.25 2939.11ZM2895.62 2872.88L2913.22 2896.28L2895.62 2919.68L2878.02 2896.28ZM2895.62 2888.98L2901.22 2896.28L2895.62 2903.58L2890.02 2896.28ZM2947.39 2858.97L2964.99 2882.38L2947.39 2905.78L2929.79 2882.38ZM2947.39 2875.07L2952.99 2882.38L2947.39 2889.68L2941.79 2882.38ZM2999.16 2871.75L3016.76 2895.15L2999.16 2918.55L2981.56 2895.15ZM2999.16 2887.85L3004.76 2895.15L2999.16 2902.45L2993.56 2895.15ZM3050.93 2917.22L3068.53 2940.62L3050.93 2964.02L3033.33 2940.62ZM3050.93 2933.32L3056.53 2940.62L3050.93 2947.92L3045.33 2940.62ZM3102.7 2997.25L3120.3 3020.65L3102.7 3044.05L3085.1 3020.65ZM3102.7 3013.35L3108.3 3020.65L3102.7 3027.95L3097.1 3020.65ZM3154.46 3115.24L3172.06 3138.64L3154.46 3162.04L3136.86 3138.64ZM3154.46 3131.34L3160.06 3138.64L3154.46 3145.94L3148.86 3138.64ZM3206.23 3175.36L3223.83 3198.76L3206.23 3222.16L3188.63 3198.76ZM3206.23 3191.46L3211.83 3198.76L3206.23 3206.06L3200.63 3198.76ZM3258 3248.63L3275.6 3272.03L3258 3295.43L3240.4 3272.03ZM3258 3264.73L3263.6 3272.03L3258 3279.33L3252.4 3272.03Z" fill="#EDB120" fill-rule="evenodd"/>
<path d="M2481.48 3596.3L2533.25 3442.62L2585.01 3364.84L2636.78 3204.39L2688.55 3068.75L2740.32 2959.4L2792.09 2878.62L2843.85 2821.88L2895.62 2792.95L2947.39 2791.44L2999.16 2819.62L3050.93 2872.23L3102.7 2953.02L3154.46 3063.49L3206.23 3116.84L3258 3182.22" stroke="#7E2F8E" stroke-width="9.5" fill="none" stroke-linejoin="round" stroke-dasharray="36 38"/>
<path d="M2481.48 3572.9L2499.08 3596.3L2481.48 3619.7L2463.88 3596.3ZM2481.48 3589L2487.08 3596.3L2481.48 3603.6L2475.88 3596.3ZM2533.25 3419.22L2550.85 3442.62L2533.25 3466.02L2515.65 3442.62ZM2533.25 3435.32L2538.85 3442.62L2533.25 3449.92L2527.65 3442.62ZM2585.01 3341.44L2602.61 3364.84L2585.01 3388.24L2567.41 3364.84ZM2585.01 3357.54L2590.61 3364.84L2585.01 3372.14L2579.41 3364.84ZM2636.78 3180.99L2654.38 3204.39L2636.78 3227.79L2619.18 3204.39ZM2636.78 3197.09L2642.38 3204.39L2636.78 3211.69L2631.18 3204.39ZM2688.55 3045.35L2706.15 3068.75L2688.55 3092.15L2670.95 3068.75ZM2688.55 3061.45L2694.15 3068.75L2688.55 3076.05L2682.95 3068.75ZM2740.32 2936L2757.92 2959.4L2740.32 2982.8L2722.72 2959.4ZM2740.32 2952.1L2745.92 2959.4L2740.32 2966.7L2734.72 2959.4ZM2792.09 2855.22L2809.69 2878.62L2792.09 2902.02L2774.49 2878.62ZM2792.09 2871.32L2797.69 2878.62L2792.09 2885.92L2786.49 2878.62ZM2843.85 2798.48L2861.45 2821.88L2843.85 2845.28L2826.25 2821.88ZM2843.85 2814.58L2849.45 2821.88L2843.85 2829.18L2838.25 2821.88ZM2895.62 2769.55L2913.22 2792.95L2895.62 2816.35L2878.02 2792.95ZM2895.62 2785.65L2901.22 2792.95L2895.62 2800.25L2890.02 2792.95ZM2947.39 2768.04L2964.99 2791.44L2947.39 2814.84L2929.79 2791.44ZM2947.39 2784.14L2952.99 2791.44L2947.39 2798.74L2941.79 2791.44ZM2999.16 2796.22L3016.76 2819.62L2999.16 2843.02L2981.56 2819.62ZM2999.16 2812.32L3004.76 2819.62L2999.16 2826.92L2993.56 2819.62ZM3050.93 2848.83L3068.53 2872.23L3050.93 2895.63L3033.33 2872.23ZM3050.93 2864.93L3056.53 2872.23L3050.93 2879.53L3045.33 2872.23ZM3102.7 2929.62L3120.3 2953.02L3102.7 2976.42L3085.1 2953.02ZM3102.7 2945.72L3108.3 2953.02L3102.7 2960.32L3097.1 2953.02ZM3154.46 3040.09L3172.06 3063.49L3154.46 3086.89L3136.86 3063.49ZM3154.46 3056.19L3160.06 3063.49L3154.46 3070.79L3148.86 3063.49ZM3206.23 3093.44L3223.83 3116.84L3206.23 3140.24L3188.63 3116.84ZM3206.23 3109.54L3211.83 3116.84L3206.23 3124.14L3200.63 3116.84ZM3258 3158.82L3275.6 3182.22L3258 3205.62L3240.4 3182.22ZM3258 3174.92L3263.6 3182.22L3258 3189.52L3252.4 3182.22Z" fill="#7E2F8E" fill-rule="evenodd"/>
<g transform="translate(2343.93,2121.5)" fill="#262626"><text x="0" y="0" font-size="75">0.4</text></g>
<g transform="translate(2303.19,2309.38)" fill="#262626"><text x="0" y="0" font-size="75">0.35</text></g>
<g transform="translate(2345.05,2497.25)" fill="#262626"><text x="0" y="0" font-size="75">0.3</text></g>
<g transform="translate(2303.19,2685.12)" fill="#262626"><text x="0" y="0" font-size="75">0.25</text></g>
<g transform="translate(2345.5,2873)" fill="#262626"><text x="0" y="0" font-size="75">0.2</text></g>
<g transform="translate(2303.19,3060.88)" fill="#262626"><text x="0" y="0" font-size="75">0. 5</text><path d="M0.3578 0L0.2668 0L0.2668 -0.492L0.1001 -0.492L0.1001 -0.549C0.19 -0.552 0.27 -0.57 0.2917 -0.684L0.3578 -0.684Z" transform="translate(62.55,0) scale(75)"/></g>
<g transform="translate(2347.22,3248.75)" fill="#262626"><text x="0" y="0" font-size="75">0. </text><path d="M0.3578 0L0.2668 0L0.2668 -0.492L0.1001 -0.492L0.1001 -0.549C0.19 -0.552 0.27 -0.57 0.2917 -0.684L0.3578 -0.684Z" transform="translate(62.55,0) scale(75)"/></g>
<g transform="translate(2303.19,3436.62)" fill="#262626"><text x="0" y="0" font-size="75">0.05</text></g>
<g transform="translate(2409.93,3624.5)" fill="#262626"><text x="0" y="0" font-size="75">0</text></g>
<g transform="translate(2448.33,3694.9)" fill="#262626"><text x="0" y="0" font-size="75">0</text></g>
<g transform="translate(2603.86,3694.9)" fill="#262626"><text x="0" y="0" font-size="75">3</text></g>
<g transform="translate(2758.67,3694.9)" fill="#262626"><text x="0" y="0" font-size="75">6</text></g>
<g transform="translate(2914.24,3694.9)" fill="#262626"><text x="0" y="0" font-size="75">9</text></g>
<g transform="translate(3060.51,3694.9)" fill="#262626"><text x="0" y="0" font-size="75"> 2</text><path d="M0.3578 0L0.2668 0L0.2668 -0.492L0.1001 -0.492L0.1001 -0.549C0.19 -0.552 0.27 -0.57 0.2917 -0.684L0.3578 -0.684Z" transform="translate(0,0) scale(75)"/></g>
<g transform="translate(3215.52,3694.9)" fill="#262626"><text x="0" y="0" font-size="75"> 5</text><path d="M0.3578 0L0.2668 0L0.2668 -0.492L0.1001 -0.492L0.1001 -0.549C0.19 -0.552 0.27 -0.57 0.2917 -0.684L0.3578 -0.684Z" transform="translate(0,0) scale(75)"/></g>
<g transform="translate(267.47,91.7)" fill="#000"><text x="0" y="0" font-size="113">A</text></g>
<g transform="translate(1370.93,91.7)" fill="#000"><text x="0" y="0" font-size="113">B</text></g>
<g transform="translate(2474.44,91.7)" fill="#000"><text x="0" y="0" font-size="113">C</text></g>
<g transform="translate(264.53,2048.6)" fill="#000"><text x="0" y="0" font-size="113">D</text></g>
<g transform="translate(1364.23,2048.6)" fill="#000"><text x="0" y="0" font-size="113">E</text></g>
<g transform="translate(2459.53,2048.6)" fill="#000"><text x="0" y="0" font-size="113">F</text></g>
<g transform="translate(69.9,1216.72) rotate(-90) scale(0.96217,1)" fill="#262626"><text x="0" y="0" font-size="85">Infections averted</text></g>
<g transform="translate(1165.4,1329.89) rotate(-90) scale(0.95967,1)" fill="#262626"><text x="0" y="0" font-size="85">Hospitalizations averted</text></g>
<g transform="translate(2301.9,1168.3) rotate(-90) scale(0.96131,1)" fill="#262626"><text x="0" y="0" font-size="85">Deaths averted</text></g>
<g transform="translate(84.9,3176.89) rotate(-90) scale(0.95731,1)" fill="#262626"><text x="0" y="0" font-size="85">Infections averted</text></g>
<g transform="translate(1172,3292.49) rotate(-90) scale(0.95967,1)" fill="#262626"><text x="0" y="0" font-size="85">Hospitalizations averted</text></g>
<g transform="translate(2274.7,3130.9) rotate(-90) scale(0.96166,1)" fill="#262626"><text x="0" y="0" font-size="85">Deaths averted</text></g>
<g transform="translate(636.51,1834.1) scale(0.96021,1)" fill="#262626"><text x="0" y="0" font-size="85">Delay in second dose from recommended schedule (weeks)</text></g>
<g transform="translate(643.61,3797.3) scale(0.96008,1)" fill="#262626"><text x="0" y="0" font-size="85">Delay in second dose from recommended schedule (weeks)</text></g>
<g transform="translate(3359.12,203.4) scale(0.97631,1)" fill="#000"><text x="0" y="0" font-size="68.5">Pre-existing immunity</text></g>
<rect x="3361.2" y="243.1" width="71.8" height="56.9" fill="#1174BC"/>
<rect x="3361.2" y="334.6" width="71.8" height="56.5" fill="#EDB120"/>
<rect x="3361.2" y="425.7" width="71.8" height="56.8" fill="#7E2F8E"/>
<g transform="translate(3464.46,297.4) scale(1.02632,1)" fill="#000"><text x="0" y="0" font-size="68.5"> 0%</text><path d="M0.3578 0L0.2668 0L0.2668 -0.492L0.1001 -0.492L0.1001 -0.549C0.19 -0.552 0.27 -0.57 0.2917 -0.684L0.3578 -0.684Z" transform="translate(0,0) scale(68.5)"/></g>
<g transform="translate(3466.74,389.4) scale(1.00939,1)" fill="#000"><text x="0" y="0" font-size="68.5">20%</text></g>
<g transform="translate(3475.31,481.3) scale(0.99327,1)" fill="#000"><text x="0" y="0" font-size="68.5">30%</text></g>
<path d="M3366.8 609.05H3421.9V664.15H3366.8ZM3385.25 627.5H3403.45V645.7H3385.25Z" fill="#1174BC" fill-rule="evenodd"/>
<path d="M3394.35 707.9L3421.75 746.3L3394.35 784.7L3366.95 746.3ZM3394.35 733.9L3403.45 746.3L3394.35 758.7L3385.25 746.3Z" fill="#1174BC" fill-rule="evenodd"/>
<path d="M3447.95 609.05H3503.05V664.15H3447.95ZM3466.4 627.5H3484.6V645.7H3466.4Z" fill="#EDB120" fill-rule="evenodd"/>
<path d="M3475.5 707.9L3502.9 746.3L3475.5 784.7L3448.1 746.3ZM3475.5 733.9L3484.6 746.3L3475.5 758.7L3466.4 746.3Z" fill="#EDB120" fill-rule="evenodd"/>
<path d="M3529.2 609.05H3584.3V664.15H3529.2ZM3547.65 627.5H3565.85V645.7H3547.65Z" fill="#7E2F8E" fill-rule="evenodd"/>
<path d="M3556.75 707.9L3584.15 746.3L3556.75 784.7L3529.35 746.3ZM3556.75 733.9L3565.85 746.3L3556.75 758.7L3547.65 746.3Z" fill="#7E2F8E" fill-rule="evenodd"/>
<g transform="translate(3620.67,662.6) scale(0.98517,1)" fill="#000"><text x="0" y="0" font-size="68.5">Moderna</text></g>
<g transform="translate(3620.87,770.8) scale(0.94927,1)" fill="#000"><text x="0" y="0" font-size="68.5">Pfizer-BioNTech</text></g>
<g transform="translate(3359.12,2153.2) scale(0.97631,1)" fill="#000"><text x="0" y="0" font-size="68.5">Pre-existing immunity</text></g>
<rect x="3361.2" y="2192.9" width="71.8" height="56.9" fill="#1174BC"/>
<rect x="3361.2" y="2284.4" width="71.8" height="56.5" fill="#EDB120"/>
<rect x="3361.2" y="2375.5" width="71.8" height="56.8" fill="#7E2F8E"/>
<g transform="translate(3464.46,2247.2) scale(1.02632,1)" fill="#000"><text x="0" y="0" font-size="68.5"> 0%</text><path d="M0.3578 0L0.2668 0L0.2668 -0.492L0.1001 -0.492L0.1001 -0.549C0.19 -0.552 0.27 -0.57 0.2917 -0.684L0.3578 -0.684Z" transform="translate(0,0) scale(68.5)"/></g>
<g transform="translate(3466.74,2339.2) scale(1.00939,1)" fill="#000"><text x="0" y="0" font-size="68.5">20%</text></g>
<g transform="translate(3475.31,2431.1) scale(0.99327,1)" fill="#000"><text x="0" y="0" font-size="68.5">30%</text></g>
<path d="M3366.8 2558.85H3421.9V2613.95H3366.8ZM3385.25 2577.3H3403.45V2595.5H3385.25Z" fill="#1174BC" fill-rule="evenodd"/>
<path d="M3394.35 2657.7L3421.75 2696.1L3394.35 2734.5L3366.95 2696.1ZM3394.35 2683.7L3403.45 2696.1L3394.35 2708.5L3385.25 2696.1Z" fill="#1174BC" fill-rule="evenodd"/>
<path d="M3447.95 2558.85H3503.05V2613.95H3447.95ZM3466.4 2577.3H3484.6V2595.5H3466.4Z" fill="#EDB120" fill-rule="evenodd"/>
<path d="M3475.5 2657.7L3502.9 2696.1L3475.5 2734.5L3448.1 2696.1ZM3475.5 2683.7L3484.6 2696.1L3475.5 2708.5L3466.4 2696.1Z" fill="#EDB120" fill-rule="evenodd"/>
<path d="M3529.2 2558.85H3584.3V2613.95H3529.2ZM3547.65 2577.3H3565.85V2595.5H3547.65Z" fill="#7E2F8E" fill-rule="evenodd"/>
<path d="M3556.75 2657.7L3584.15 2696.1L3556.75 2734.5L3529.35 2696.1ZM3556.75 2683.7L3565.85 2696.1L3556.75 2708.5L3547.65 2696.1Z" fill="#7E2F8E" fill-rule="evenodd"/>
<g transform="translate(3620.67,2612.4) scale(0.98517,1)" fill="#000"><text x="0" y="0" font-size="68.5">Moderna</text></g>
<g transform="translate(3620.87,2720.6) scale(0.94927,1)" fill="#000"><text x="0" y="0" font-size="68.5">Pfizer-BioNTech</text></g>
</svg>
</body></html>
